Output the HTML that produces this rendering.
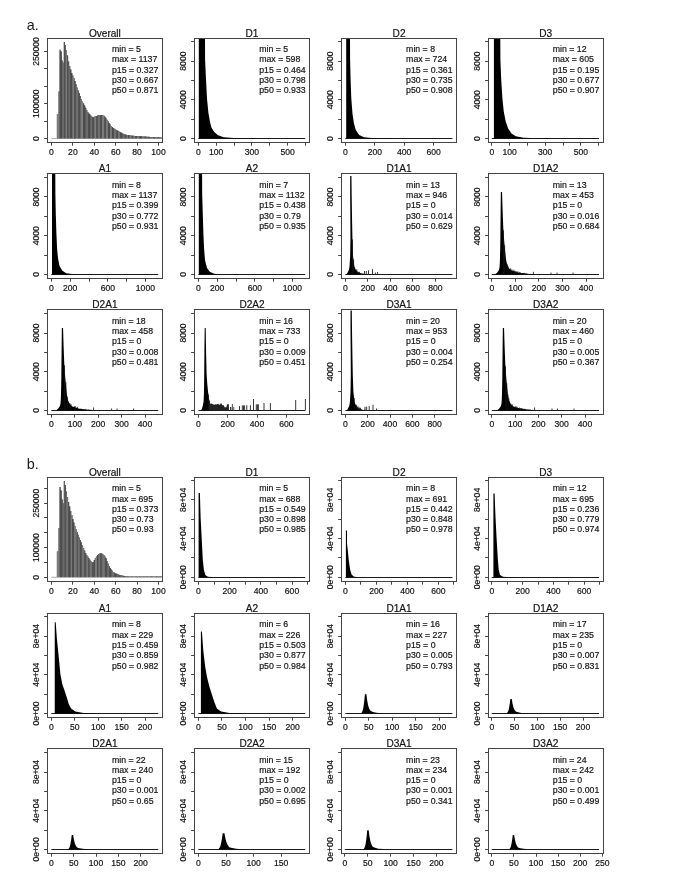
<!DOCTYPE html>
<html><head><meta charset="utf-8"><title>Histograms</title>
<style>html,body{margin:0;padding:0;background:#fff;}body{width:685px;height:886px;overflow:hidden;}svg{display:block;filter:grayscale(1);font-family:"Liberation Sans",sans-serif;}text{stroke:#111;stroke-width:0.18px;paint-order:stroke;}</style>
</head><body>
<svg width="685" height="886" viewBox="0 0 685 886">
<rect width="685" height="886" fill="#fff"/>
<g>
<text x="26.7" y="30.3" font-size="14.4" fill="#1a1a1a" style="stroke-width:0">a.</text>
<text x="26.7" y="469.2" font-size="14.4" fill="#1a1a1a" style="stroke-width:0">b.</text>
<line x1="51.5" y1="138.5" x2="56.85" y2="138.5" stroke="#999" stroke-width="0.8"/>
<clipPath id="cl0"><polygon points="56.8,138.5 56.8,113.9 57.38,113.9 57.38,113.9 58.45,113.9 58.45,91.4 59.52,91.4 59.52,49.7 60.59,49.7 60.59,51.5 61.66,51.5 61.66,60.5 62.73,60.5 62.73,62.8 63.8,62.8 63.8,42.1 64.88,42.1 64.88,45.2 65.94,45.2 65.94,50 67.02,50 67.02,55.5 68.09,55.5 68.09,61.5 69.16,61.5 69.16,66 70.22,66 70.22,69.5 71.3,69.5 71.3,73 72.37,73 72.37,75.5 73.44,75.5 73.44,78 74.5,78 74.5,81 75.58,81 75.58,84.3 76.65,84.3 76.65,87.5 77.72,87.5 77.72,90.5 78.78,90.5 78.78,93.3 79.86,93.3 79.86,96 80.92,96 80.92,99 82,99 82,101.5 83.06,101.5 83.06,103.5 84.14,103.5 84.14,105.5 85.21,105.5 85.21,107.8 86.28,107.8 86.28,110 87.34,110 87.34,112 88.41,112 88.41,113.5 89.48,113.5 89.48,114.5 90.56,114.5 90.56,115.8 91.62,115.8 91.62,116.8 92.69,116.8 92.69,117.2 93.77,117.2 93.77,116.8 94.84,116.8 94.84,116.3 95.91,116.3 95.91,115.9 96.97,115.9 96.97,115.6 98.05,115.6 98.05,115.3 99.12,115.3 99.12,115.1 100.19,115.1 100.19,115 101.25,115 101.25,115.1 102.33,115.1 102.33,115.3 103.4,115.3 103.4,115.7 104.47,115.7 104.47,116.7 105.53,116.7 105.53,118.2 106.61,118.2 106.61,119.8 107.68,119.8 107.68,121.5 108.75,121.5 108.75,123.2 109.81,123.2 109.81,124.6 110.89,124.6 110.89,125.9 111.96,125.9 111.96,127 113.03,127 113.03,128 114.09,128 114.09,128.8 115.17,128.8 115.17,129.5 116.23,129.5 116.23,130.2 117.31,130.2 117.31,130.8 118.38,130.8 118.38,131.3 119.45,131.3 119.45,131.9 120.52,131.9 120.52,132.6 121.59,132.6 121.59,133.2 122.66,133.2 122.66,133.7 123.73,133.7 123.73,134.1 124.8,134.1 124.8,134.4 125.87,134.4 125.87,134.7 126.94,134.7 126.94,134.9 128,134.9 128,135.1 129.07,135.1 129.07,135.25 130.15,135.25 130.15,135.4 131.22,135.4 131.22,135.55 132.29,135.55 132.29,135.7 133.36,135.7 133.36,135.8 134.43,135.8 134.43,135.9 135.5,135.9 135.5,135.95 136.56,135.95 136.56,136 137.63,136 137.63,136.07 138.7,136.07 138.7,136.15 139.78,136.15 139.78,136.23 140.84,136.23 140.84,136.3 141.92,136.3 141.92,136.38 142.99,136.38 142.99,136.45 144.06,136.45 144.06,136.53 145.12,136.53 145.12,136.6 146.19,136.6 146.19,136.68 147.26,136.68 147.26,136.75 148.34,136.75 148.34,136.82 149.41,136.82 149.41,136.9 150.48,136.9 150.48,136.95 151.55,136.95 151.55,137 152.62,137 152.62,137.05 153.69,137.05 153.69,137.1 154.75,137.1 154.75,137.15 155.82,137.15 155.82,137.2 156.9,137.2 156.9,137.25 157.97,137.25 157.97,137.3 159.04,137.3 159.04,137.35 160.11,137.35 160.11,137.4 161.18,137.4 161.18,137.45 161.8,137.45 161.8,138.5"/></clipPath>
<g clip-path="url(#cl0)">
<rect x="50" y="38.1" width="115" height="110" fill="#595959"/>
<rect x="56.8" y="38.1" width="2.2" height="110" fill="#7c7c7c"/>
<rect x="59" y="38.1" width="1.3" height="110" fill="#666"/>
<rect x="60.3" y="38.1" width="1.95" height="110" fill="#4a4a4a"/>
<rect x="62.15" y="38.1" width="2.05" height="110" fill="#6b6b6b"/>
<rect x="64.1" y="38.1" width="1.6" height="110" fill="#505050"/>
<rect x="65.6" y="38.1" width="1.63" height="110" fill="#7c7c7c"/>
<rect x="67.14" y="38.1" width="1.58" height="110" fill="#505050"/>
<rect x="68.62" y="38.1" width="1.8" height="110" fill="#6c6c6c"/>
<rect x="70.32" y="38.1" width="2.11" height="110" fill="#494949"/>
<rect x="72.32" y="38.1" width="1.84" height="110" fill="#7b7b7b"/>
<rect x="74.06" y="38.1" width="2.09" height="110" fill="#555555"/>
<rect x="76.06" y="38.1" width="2.29" height="110" fill="#717171"/>
<rect x="78.25" y="38.1" width="2.38" height="110" fill="#515151"/>
<rect x="80.53" y="38.1" width="2.83" height="110" fill="#7c7c7c"/>
<rect x="83.26" y="38.1" width="2.32" height="110" fill="#484848"/>
<rect x="85.48" y="38.1" width="2.87" height="110" fill="#6b6b6b"/>
<rect x="88.24" y="38.1" width="2.28" height="110" fill="#4a4a4a"/>
<rect x="90.42" y="38.1" width="1.91" height="110" fill="#6e6e6e"/>
<rect x="92.23" y="38.1" width="2.26" height="110" fill="#515151"/>
<rect x="94.39" y="38.1" width="1.93" height="110" fill="#7f7f7f"/>
<rect x="96.22" y="38.1" width="1.75" height="110" fill="#515151"/>
<rect x="97.87" y="38.1" width="2.3" height="110" fill="#707070"/>
<rect x="100.07" y="38.1" width="2.02" height="110" fill="#505050"/>
<rect x="101.99" y="38.1" width="2.5" height="110" fill="#7c7c7c"/>
<rect x="104.39" y="38.1" width="1.58" height="110" fill="#4b4b4b"/>
<rect x="105.87" y="38.1" width="2.19" height="110" fill="#7b7b7b"/>
<rect x="107.97" y="38.1" width="2.1" height="110" fill="#4d4d4d"/>
<rect x="109.97" y="38.1" width="2.15" height="110" fill="#787878"/>
<rect x="112.02" y="38.1" width="2.01" height="110" fill="#4b4b4b"/>
<rect x="113.92" y="38.1" width="2.61" height="110" fill="#717171"/>
<rect x="116.44" y="38.1" width="1.61" height="110" fill="#4c4c4c"/>
<rect x="117.95" y="38.1" width="2.24" height="110" fill="#747474"/>
<rect x="120.09" y="38.1" width="2.52" height="110" fill="#4c4c4c"/>
<rect x="122.51" y="38.1" width="2.35" height="110" fill="#6c6c6c"/>
<rect x="124.76" y="38.1" width="1.67" height="110" fill="#4e4e4e"/>
<rect x="126.32" y="38.1" width="1.73" height="110" fill="#747474"/>
<rect x="127.96" y="38.1" width="1.71" height="110" fill="#4f4f4f"/>
<rect x="129.57" y="38.1" width="2.09" height="110" fill="#7f7f7f"/>
<rect x="131.56" y="38.1" width="1.61" height="110" fill="#505050"/>
<rect x="133.07" y="38.1" width="2.3" height="110" fill="#747474"/>
<rect x="135.27" y="38.1" width="1.98" height="110" fill="#4d4d4d"/>
<rect x="137.15" y="38.1" width="2.33" height="110" fill="#7c7c7c"/>
<rect x="139.38" y="38.1" width="2.62" height="110" fill="#494949"/>
<rect x="141.89" y="38.1" width="2.68" height="110" fill="#727272"/>
<rect x="144.47" y="38.1" width="2.16" height="110" fill="#525252"/>
<rect x="146.53" y="38.1" width="1.59" height="110" fill="#737373"/>
<rect x="148.02" y="38.1" width="2.41" height="110" fill="#525252"/>
<rect x="150.33" y="38.1" width="2.65" height="110" fill="#737373"/>
<rect x="152.88" y="38.1" width="2.5" height="110" fill="#525252"/>
<rect x="155.28" y="38.1" width="1.99" height="110" fill="#787878"/>
<rect x="157.17" y="38.1" width="2" height="110" fill="#515151"/>
<rect x="159.07" y="38.1" width="1.66" height="110" fill="#6b6b6b"/>
<rect x="160.63" y="38.1" width="1.81" height="110" fill="#4c4c4c"/>
</g>
<rect x="47.5" y="38.5" width="115" height="104" fill="none" stroke="#444" stroke-width="1"/>
<text x="104.88" y="36.9" font-size="10.1" text-anchor="middle" fill="#111">Overall</text>
<text x="111.95" y="52" font-size="8.75" fill="#111">min = 5</text>
<text x="111.95" y="62.28" font-size="8.75" fill="#111">max = 1137</text>
<text x="111.95" y="72.56" font-size="8.75" fill="#111">p15 = 0.327</text>
<text x="111.95" y="82.84" font-size="8.75" fill="#111">p30 = 0.667</text>
<text x="111.95" y="93.12" font-size="8.75" fill="#111">p50 = 0.871</text>
<line x1="51.5" y1="142.5" x2="51.5" y2="145.7" stroke="#444" stroke-width="1"/>
<text x="51.5" y="155" font-size="8.6" text-anchor="middle" fill="#111">0</text>
<line x1="72.5" y1="142.5" x2="72.5" y2="145.7" stroke="#444" stroke-width="1"/>
<text x="72.9" y="155" font-size="8.6" text-anchor="middle" fill="#111">20</text>
<line x1="94.5" y1="142.5" x2="94.5" y2="145.7" stroke="#444" stroke-width="1"/>
<text x="94.3" y="155" font-size="8.6" text-anchor="middle" fill="#111">40</text>
<line x1="115.5" y1="142.5" x2="115.5" y2="145.7" stroke="#444" stroke-width="1"/>
<text x="115.7" y="155" font-size="8.6" text-anchor="middle" fill="#111">60</text>
<line x1="137.5" y1="142.5" x2="137.5" y2="145.7" stroke="#444" stroke-width="1"/>
<text x="137.1" y="155" font-size="8.6" text-anchor="middle" fill="#111">80</text>
<line x1="158.5" y1="142.5" x2="158.5" y2="145.7" stroke="#444" stroke-width="1"/>
<text x="158.5" y="155" font-size="8.6" text-anchor="middle" fill="#111">100</text>
<line x1="44.1" y1="138.5" x2="47.5" y2="138.5" stroke="#444" stroke-width="1"/>
<text transform="translate(38.95,138.5) rotate(-90)" font-size="8.6" text-anchor="middle" fill="#111">0</text>
<line x1="44.1" y1="121.5" x2="47.5" y2="121.5" stroke="#444" stroke-width="1"/>
<line x1="44.1" y1="103.5" x2="47.5" y2="103.5" stroke="#444" stroke-width="1"/>
<text transform="translate(38.95,103.7) rotate(-90)" font-size="8.6" text-anchor="middle" fill="#111">100000</text>
<line x1="44.1" y1="86.5" x2="47.5" y2="86.5" stroke="#444" stroke-width="1"/>
<line x1="44.1" y1="68.5" x2="47.5" y2="68.5" stroke="#444" stroke-width="1"/>
<line x1="44.1" y1="51.5" x2="47.5" y2="51.5" stroke="#444" stroke-width="1"/>
<text transform="translate(38.95,51.5) rotate(-90)" font-size="8.6" text-anchor="middle" fill="#111">250000</text>
<line x1="198.4" y1="138.5" x2="305.2" y2="138.5" stroke="#1a1a1a" stroke-width="1"/>
<polygon fill="#000" points="198.8,138.5 198.8,38 205,38 205.1,60 206,79.2 207,98.4 208.4,112.8 209.9,121.4 211.3,127.2 214.2,132 218,135.3 223.8,137.3 233.4,138 245,138.2 255,138.1 255,138.5"/>
<rect x="194.5" y="38.5" width="115" height="104" fill="none" stroke="#444" stroke-width="1"/>
<text x="252" y="36.9" font-size="10.1" text-anchor="middle" fill="#111">D1</text>
<text x="259.2" y="52" font-size="8.75" fill="#111">min = 5</text>
<text x="259.2" y="62.28" font-size="8.75" fill="#111">max = 598</text>
<text x="259.2" y="72.56" font-size="8.75" fill="#111">p15 = 0.464</text>
<text x="259.2" y="82.84" font-size="8.75" fill="#111">p30 = 0.798</text>
<text x="259.2" y="93.12" font-size="8.75" fill="#111">p50 = 0.933</text>
<line x1="198.5" y1="142.5" x2="198.5" y2="145.7" stroke="#444" stroke-width="1"/>
<text x="198.4" y="155" font-size="8.6" text-anchor="middle" fill="#111">0</text>
<line x1="216.5" y1="142.5" x2="216.5" y2="145.7" stroke="#444" stroke-width="1"/>
<text x="216.24" y="155" font-size="8.6" text-anchor="middle" fill="#111">100</text>
<line x1="234.5" y1="142.5" x2="234.5" y2="145.7" stroke="#444" stroke-width="1"/>
<line x1="251.5" y1="142.5" x2="251.5" y2="145.7" stroke="#444" stroke-width="1"/>
<text x="251.92" y="155" font-size="8.6" text-anchor="middle" fill="#111">300</text>
<line x1="269.5" y1="142.5" x2="269.5" y2="145.7" stroke="#444" stroke-width="1"/>
<line x1="287.5" y1="142.5" x2="287.5" y2="145.7" stroke="#444" stroke-width="1"/>
<text x="287.6" y="155" font-size="8.6" text-anchor="middle" fill="#111">500</text>
<line x1="305.5" y1="142.5" x2="305.5" y2="145.7" stroke="#444" stroke-width="1"/>
<line x1="191.1" y1="138.5" x2="194.5" y2="138.5" stroke="#444" stroke-width="1"/>
<text transform="translate(186.2,138.5) rotate(-90)" font-size="8.6" text-anchor="middle" fill="#111">0</text>
<line x1="191.1" y1="119.5" x2="194.5" y2="119.5" stroke="#444" stroke-width="1"/>
<line x1="191.1" y1="99.5" x2="194.5" y2="99.5" stroke="#444" stroke-width="1"/>
<text transform="translate(186.2,99.8) rotate(-90)" font-size="8.6" text-anchor="middle" fill="#111">4000</text>
<line x1="191.1" y1="80.5" x2="194.5" y2="80.5" stroke="#444" stroke-width="1"/>
<line x1="191.1" y1="61.5" x2="194.5" y2="61.5" stroke="#444" stroke-width="1"/>
<text transform="translate(186.2,61.1) rotate(-90)" font-size="8.6" text-anchor="middle" fill="#111">8000</text>
<line x1="191.1" y1="41.5" x2="194.5" y2="41.5" stroke="#444" stroke-width="1"/>
<line x1="345.4" y1="138.5" x2="452.4" y2="138.5" stroke="#1a1a1a" stroke-width="1"/>
<polygon fill="#000" points="346.2,138.5 346.2,38 350,38 350.1,60 350.6,79.2 351.3,98.4 352.5,113.7 353.9,123.3 355.8,130 359.2,134.9 364,137.3 371.7,137.9 382,138.2 392,138.1 392,138.5"/>
<rect x="341.5" y="38.5" width="115" height="104" fill="none" stroke="#444" stroke-width="1"/>
<text x="399.05" y="36.9" font-size="10.1" text-anchor="middle" fill="#111">D2</text>
<text x="406.1" y="52" font-size="8.75" fill="#111">min = 8</text>
<text x="406.1" y="62.28" font-size="8.75" fill="#111">max = 724</text>
<text x="406.1" y="72.56" font-size="8.75" fill="#111">p15 = 0.361</text>
<text x="406.1" y="82.84" font-size="8.75" fill="#111">p30 = 0.735</text>
<text x="406.1" y="93.12" font-size="8.75" fill="#111">p50 = 0.908</text>
<line x1="345.5" y1="142.5" x2="345.5" y2="145.7" stroke="#444" stroke-width="1"/>
<text x="345.4" y="155" font-size="8.6" text-anchor="middle" fill="#111">0</text>
<line x1="374.5" y1="142.5" x2="374.5" y2="145.7" stroke="#444" stroke-width="1"/>
<text x="374.8" y="155" font-size="8.6" text-anchor="middle" fill="#111">200</text>
<line x1="404.5" y1="142.5" x2="404.5" y2="145.7" stroke="#444" stroke-width="1"/>
<text x="404.2" y="155" font-size="8.6" text-anchor="middle" fill="#111">400</text>
<line x1="433.5" y1="142.5" x2="433.5" y2="145.7" stroke="#444" stroke-width="1"/>
<text x="433.6" y="155" font-size="8.6" text-anchor="middle" fill="#111">600</text>
<line x1="338.1" y1="138.5" x2="341.5" y2="138.5" stroke="#444" stroke-width="1"/>
<text transform="translate(333.1,138.5) rotate(-90)" font-size="8.6" text-anchor="middle" fill="#111">0</text>
<line x1="338.1" y1="119.5" x2="341.5" y2="119.5" stroke="#444" stroke-width="1"/>
<line x1="338.1" y1="99.5" x2="341.5" y2="99.5" stroke="#444" stroke-width="1"/>
<text transform="translate(333.1,99.8) rotate(-90)" font-size="8.6" text-anchor="middle" fill="#111">4000</text>
<line x1="338.1" y1="80.5" x2="341.5" y2="80.5" stroke="#444" stroke-width="1"/>
<line x1="338.1" y1="61.5" x2="341.5" y2="61.5" stroke="#444" stroke-width="1"/>
<text transform="translate(333.1,61.1) rotate(-90)" font-size="8.6" text-anchor="middle" fill="#111">8000</text>
<line x1="338.1" y1="41.5" x2="341.5" y2="41.5" stroke="#444" stroke-width="1"/>
<line x1="491.8" y1="138.5" x2="599" y2="138.5" stroke="#1a1a1a" stroke-width="1"/>
<polygon fill="#000" points="493.9,138.5 493.9,38 500.3,38 500.4,60 501.2,79.2 502.4,98.4 503.8,111.8 505.7,121.4 508.1,128.6 511.5,133.4 515.8,136.3 523.5,137.7 537,138.2 550,138.1 550,138.5"/>
<rect x="488.5" y="38.5" width="115" height="104" fill="none" stroke="#444" stroke-width="1"/>
<text x="545.7" y="36.9" font-size="10.1" text-anchor="middle" fill="#111">D3</text>
<text x="552.8" y="52" font-size="8.75" fill="#111">min = 12</text>
<text x="552.8" y="62.28" font-size="8.75" fill="#111">max = 605</text>
<text x="552.8" y="72.56" font-size="8.75" fill="#111">p15 = 0.195</text>
<text x="552.8" y="82.84" font-size="8.75" fill="#111">p30 = 0.677</text>
<text x="552.8" y="93.12" font-size="8.75" fill="#111">p50 = 0.907</text>
<line x1="491.5" y1="142.5" x2="491.5" y2="145.7" stroke="#444" stroke-width="1"/>
<text x="491.8" y="155" font-size="8.6" text-anchor="middle" fill="#111">0</text>
<line x1="509.5" y1="142.5" x2="509.5" y2="145.7" stroke="#444" stroke-width="1"/>
<text x="509.6" y="155" font-size="8.6" text-anchor="middle" fill="#111">100</text>
<line x1="527.5" y1="142.5" x2="527.5" y2="145.7" stroke="#444" stroke-width="1"/>
<line x1="545.5" y1="142.5" x2="545.5" y2="145.7" stroke="#444" stroke-width="1"/>
<text x="545.2" y="155" font-size="8.6" text-anchor="middle" fill="#111">300</text>
<line x1="563.5" y1="142.5" x2="563.5" y2="145.7" stroke="#444" stroke-width="1"/>
<line x1="580.5" y1="142.5" x2="580.5" y2="145.7" stroke="#444" stroke-width="1"/>
<text x="580.8" y="155" font-size="8.6" text-anchor="middle" fill="#111">500</text>
<line x1="598.5" y1="142.5" x2="598.5" y2="145.7" stroke="#444" stroke-width="1"/>
<line x1="485.1" y1="138.5" x2="488.5" y2="138.5" stroke="#444" stroke-width="1"/>
<text transform="translate(479.8,138.5) rotate(-90)" font-size="8.6" text-anchor="middle" fill="#111">0</text>
<line x1="485.1" y1="119.5" x2="488.5" y2="119.5" stroke="#444" stroke-width="1"/>
<line x1="485.1" y1="99.5" x2="488.5" y2="99.5" stroke="#444" stroke-width="1"/>
<text transform="translate(479.8,99.8) rotate(-90)" font-size="8.6" text-anchor="middle" fill="#111">4000</text>
<line x1="485.1" y1="80.5" x2="488.5" y2="80.5" stroke="#444" stroke-width="1"/>
<line x1="485.1" y1="61.5" x2="488.5" y2="61.5" stroke="#444" stroke-width="1"/>
<text transform="translate(479.8,61.1) rotate(-90)" font-size="8.6" text-anchor="middle" fill="#111">8000</text>
<line x1="485.1" y1="41.5" x2="488.5" y2="41.5" stroke="#444" stroke-width="1"/>
<line x1="51.4" y1="274.5" x2="158.2" y2="274.5" stroke="#1a1a1a" stroke-width="1"/>
<polygon fill="#000" points="52,274.4 52,174 55.3,174 55.4,195 55.8,214.2 56.4,233.4 57.1,248.7 58,258.3 59.5,266 62.4,270.8 66.2,273.2 73.9,274.2 84,274.4 92,274 92,274.4"/>
<rect x="47.5" y="173.5" width="115" height="105" fill="none" stroke="#444" stroke-width="1"/>
<text x="104.88" y="171.9" font-size="10.1" text-anchor="middle" fill="#111">A1</text>
<text x="111.95" y="187.7" font-size="8.75" fill="#111">min = 8</text>
<text x="111.95" y="197.98" font-size="8.75" fill="#111">max = 1137</text>
<text x="111.95" y="208.26" font-size="8.75" fill="#111">p15 = 0.399</text>
<text x="111.95" y="218.54" font-size="8.75" fill="#111">p30 = 0.772</text>
<text x="111.95" y="228.82" font-size="8.75" fill="#111">p50 = 0.931</text>
<line x1="51.5" y1="278.5" x2="51.5" y2="281.7" stroke="#444" stroke-width="1"/>
<text x="51.4" y="291" font-size="8.6" text-anchor="middle" fill="#111">0</text>
<line x1="70.5" y1="278.5" x2="70.5" y2="281.7" stroke="#444" stroke-width="1"/>
<text x="70.2" y="291" font-size="8.6" text-anchor="middle" fill="#111">200</text>
<line x1="89.5" y1="278.5" x2="89.5" y2="281.7" stroke="#444" stroke-width="1"/>
<line x1="107.5" y1="278.5" x2="107.5" y2="281.7" stroke="#444" stroke-width="1"/>
<text x="107.8" y="291" font-size="8.6" text-anchor="middle" fill="#111">600</text>
<line x1="126.5" y1="278.5" x2="126.5" y2="281.7" stroke="#444" stroke-width="1"/>
<line x1="145.5" y1="278.5" x2="145.5" y2="281.7" stroke="#444" stroke-width="1"/>
<text x="145.4" y="291" font-size="8.6" text-anchor="middle" fill="#111">1000</text>
<line x1="44.1" y1="274.5" x2="47.5" y2="274.5" stroke="#444" stroke-width="1"/>
<text transform="translate(38.95,274.4) rotate(-90)" font-size="8.6" text-anchor="middle" fill="#111">0</text>
<line x1="44.1" y1="255.5" x2="47.5" y2="255.5" stroke="#444" stroke-width="1"/>
<line x1="44.1" y1="235.5" x2="47.5" y2="235.5" stroke="#444" stroke-width="1"/>
<text transform="translate(38.95,235.7) rotate(-90)" font-size="8.6" text-anchor="middle" fill="#111">4000</text>
<line x1="44.1" y1="216.5" x2="47.5" y2="216.5" stroke="#444" stroke-width="1"/>
<line x1="44.1" y1="196.5" x2="47.5" y2="196.5" stroke="#444" stroke-width="1"/>
<text transform="translate(38.95,197) rotate(-90)" font-size="8.6" text-anchor="middle" fill="#111">8000</text>
<line x1="44.1" y1="177.5" x2="47.5" y2="177.5" stroke="#444" stroke-width="1"/>
<line x1="198.4" y1="274.5" x2="305.2" y2="274.5" stroke="#1a1a1a" stroke-width="1"/>
<polygon fill="#000" points="198.8,274.4 198.8,174 202.1,174 202.2,195 202.8,214.2 203.4,233.4 204.1,248.7 205,260.3 207,268 209.8,271.8 214.2,273.7 221.8,274.4 230,274.5 238,274 238,274.4"/>
<rect x="194.5" y="173.5" width="115" height="105" fill="none" stroke="#444" stroke-width="1"/>
<text x="252" y="171.9" font-size="10.1" text-anchor="middle" fill="#111">A2</text>
<text x="259.2" y="187.7" font-size="8.75" fill="#111">min = 7</text>
<text x="259.2" y="197.98" font-size="8.75" fill="#111">max = 1132</text>
<text x="259.2" y="208.26" font-size="8.75" fill="#111">p15 = 0.438</text>
<text x="259.2" y="218.54" font-size="8.75" fill="#111">p30 = 0.79</text>
<text x="259.2" y="228.82" font-size="8.75" fill="#111">p50 = 0.935</text>
<line x1="198.5" y1="278.5" x2="198.5" y2="281.7" stroke="#444" stroke-width="1"/>
<text x="198.4" y="291" font-size="8.6" text-anchor="middle" fill="#111">0</text>
<line x1="217.5" y1="278.5" x2="217.5" y2="281.7" stroke="#444" stroke-width="1"/>
<text x="217.2" y="291" font-size="8.6" text-anchor="middle" fill="#111">200</text>
<line x1="236.5" y1="278.5" x2="236.5" y2="281.7" stroke="#444" stroke-width="1"/>
<line x1="254.5" y1="278.5" x2="254.5" y2="281.7" stroke="#444" stroke-width="1"/>
<text x="254.8" y="291" font-size="8.6" text-anchor="middle" fill="#111">600</text>
<line x1="273.5" y1="278.5" x2="273.5" y2="281.7" stroke="#444" stroke-width="1"/>
<line x1="292.5" y1="278.5" x2="292.5" y2="281.7" stroke="#444" stroke-width="1"/>
<text x="292.4" y="291" font-size="8.6" text-anchor="middle" fill="#111">1000</text>
<line x1="191.1" y1="274.5" x2="194.5" y2="274.5" stroke="#444" stroke-width="1"/>
<text transform="translate(186.2,274.4) rotate(-90)" font-size="8.6" text-anchor="middle" fill="#111">0</text>
<line x1="191.1" y1="255.5" x2="194.5" y2="255.5" stroke="#444" stroke-width="1"/>
<line x1="191.1" y1="235.5" x2="194.5" y2="235.5" stroke="#444" stroke-width="1"/>
<text transform="translate(186.2,235.7) rotate(-90)" font-size="8.6" text-anchor="middle" fill="#111">4000</text>
<line x1="191.1" y1="216.5" x2="194.5" y2="216.5" stroke="#444" stroke-width="1"/>
<line x1="191.1" y1="196.5" x2="194.5" y2="196.5" stroke="#444" stroke-width="1"/>
<text transform="translate(186.2,197) rotate(-90)" font-size="8.6" text-anchor="middle" fill="#111">8000</text>
<line x1="191.1" y1="177.5" x2="194.5" y2="177.5" stroke="#444" stroke-width="1"/>
<line x1="345.4" y1="274.5" x2="452.4" y2="274.5" stroke="#1a1a1a" stroke-width="1"/>
<polygon fill="#000" points="345.8,274.4 345.8,274.4 346.8,273.9 347.75,272.2 348.95,269.7 349.55,266 350.15,256 350.45,238.7 350.35,218.8 350.15,194 350.15,176 351.45,176 351.65,194 352.05,218.8 352.45,238.7 353.05,256 354.25,266 355.75,269.7 358.25,272.2 362.8,273.9 365.8,274.4 365.8,274.4"/>
<line x1="352.5" y1="239.57" x2="352.5" y2="274.4" stroke="#111" stroke-width="0.8"/>
<line x1="353.62" y1="259.4" x2="353.62" y2="274.4" stroke="#111" stroke-width="0.8"/>
<line x1="356.8" y1="269.18" x2="356.8" y2="274.4" stroke="#111" stroke-width="0.8"/>
<line x1="358.08" y1="271.77" x2="358.08" y2="274.4" stroke="#111" stroke-width="0.8"/>
<line x1="359.5" y1="271.86" x2="359.5" y2="274.4" stroke="#111" stroke-width="0.8"/>
<line x1="362.06" y1="273.26" x2="362.06" y2="274.4" stroke="#111" stroke-width="0.8"/>
<line x1="363.48" y1="273.52" x2="363.48" y2="274.4" stroke="#111" stroke-width="0.8"/>
<line x1="366.04" y1="273.81" x2="366.04" y2="274.4" stroke="#111" stroke-width="0.8"/>
<line x1="367.51" y1="273.87" x2="367.51" y2="274.4" stroke="#111" stroke-width="0.8"/>
<line x1="369.65" y1="274.02" x2="369.65" y2="274.4" stroke="#111" stroke-width="0.8"/>
<line x1="370.85" y1="274.17" x2="370.85" y2="274.4" stroke="#111" stroke-width="0.8"/>
<line x1="364.5" y1="271" x2="364.5" y2="274.4" stroke="#222" stroke-width="0.9"/>
<line x1="366.3" y1="271" x2="366.3" y2="274.4" stroke="#222" stroke-width="0.9"/>
<line x1="368.5" y1="270.3" x2="368.5" y2="274.4" stroke="#222" stroke-width="0.9"/>
<line x1="372.5" y1="269.2" x2="372.5" y2="274.4" stroke="#222" stroke-width="0.9"/>
<line x1="375.4" y1="272.5" x2="375.4" y2="274.4" stroke="#222" stroke-width="0.9"/>
<line x1="377.6" y1="272" x2="377.6" y2="274.4" stroke="#222" stroke-width="0.9"/>
<rect x="341.5" y="173.5" width="115" height="105" fill="none" stroke="#444" stroke-width="1"/>
<text x="399.05" y="171.9" font-size="10.1" text-anchor="middle" fill="#111">D1A1</text>
<text x="406.1" y="187.7" font-size="8.75" fill="#111">min = 13</text>
<text x="406.1" y="197.98" font-size="8.75" fill="#111">max = 946</text>
<text x="406.1" y="208.26" font-size="8.75" fill="#111">p15 = 0</text>
<text x="406.1" y="218.54" font-size="8.75" fill="#111">p30 = 0.014</text>
<text x="406.1" y="228.82" font-size="8.75" fill="#111">p50 = 0.629</text>
<line x1="345.5" y1="278.5" x2="345.5" y2="281.7" stroke="#444" stroke-width="1"/>
<text x="345.4" y="291" font-size="8.6" text-anchor="middle" fill="#111">0</text>
<line x1="367.5" y1="278.5" x2="367.5" y2="281.7" stroke="#444" stroke-width="1"/>
<text x="367.9" y="291" font-size="8.6" text-anchor="middle" fill="#111">200</text>
<line x1="390.5" y1="278.5" x2="390.5" y2="281.7" stroke="#444" stroke-width="1"/>
<text x="390.4" y="291" font-size="8.6" text-anchor="middle" fill="#111">400</text>
<line x1="412.5" y1="278.5" x2="412.5" y2="281.7" stroke="#444" stroke-width="1"/>
<text x="412.9" y="291" font-size="8.6" text-anchor="middle" fill="#111">600</text>
<line x1="435.5" y1="278.5" x2="435.5" y2="281.7" stroke="#444" stroke-width="1"/>
<text x="435.4" y="291" font-size="8.6" text-anchor="middle" fill="#111">800</text>
<line x1="338.1" y1="274.5" x2="341.5" y2="274.5" stroke="#444" stroke-width="1"/>
<text transform="translate(333.1,274.4) rotate(-90)" font-size="8.6" text-anchor="middle" fill="#111">0</text>
<line x1="338.1" y1="255.5" x2="341.5" y2="255.5" stroke="#444" stroke-width="1"/>
<line x1="338.1" y1="235.5" x2="341.5" y2="235.5" stroke="#444" stroke-width="1"/>
<text transform="translate(333.1,235.7) rotate(-90)" font-size="8.6" text-anchor="middle" fill="#111">4000</text>
<line x1="338.1" y1="216.5" x2="341.5" y2="216.5" stroke="#444" stroke-width="1"/>
<line x1="338.1" y1="196.5" x2="341.5" y2="196.5" stroke="#444" stroke-width="1"/>
<text transform="translate(333.1,197) rotate(-90)" font-size="8.6" text-anchor="middle" fill="#111">8000</text>
<line x1="338.1" y1="177.5" x2="341.5" y2="177.5" stroke="#444" stroke-width="1"/>
<line x1="491.8" y1="274.5" x2="599" y2="274.5" stroke="#1a1a1a" stroke-width="1"/>
<polygon fill="#000" points="494.95,274.4 494.95,274.4 495.45,274.1 497.05,272.8 498.65,270.6 499.45,267.9 499.75,263.9 499.95,258.9 500.15,250.4 500.35,238.9 500.45,227.4 500.65,208.4 500.85,191.9 502.05,191.9 502.55,208.4 503.25,227.4 504.05,238.9 505.05,250.4 505.95,258.9 506.95,263.9 508.65,267.9 511.35,270.6 518.45,272.8 529.45,274.1 535.45,274.4 535.45,274.4"/>
<line x1="503.5" y1="230.38" x2="503.5" y2="274.4" stroke="#111" stroke-width="0.8"/>
<line x1="504.64" y1="245.27" x2="504.64" y2="274.4" stroke="#111" stroke-width="0.8"/>
<line x1="507.14" y1="263.84" x2="507.14" y2="274.4" stroke="#111" stroke-width="0.8"/>
<line x1="508.2" y1="266.48" x2="508.2" y2="274.4" stroke="#111" stroke-width="0.8"/>
<line x1="510.62" y1="268.3" x2="510.62" y2="274.4" stroke="#111" stroke-width="0.8"/>
<line x1="511.7" y1="269.55" x2="511.7" y2="274.4" stroke="#111" stroke-width="0.8"/>
<line x1="513.12" y1="269.63" x2="513.12" y2="274.4" stroke="#111" stroke-width="0.8"/>
<line x1="514.38" y1="270.46" x2="514.38" y2="274.4" stroke="#111" stroke-width="0.8"/>
<line x1="515.39" y1="271.13" x2="515.39" y2="274.4" stroke="#111" stroke-width="0.8"/>
<line x1="516.85" y1="271.11" x2="516.85" y2="274.4" stroke="#111" stroke-width="0.8"/>
<line x1="517.93" y1="271.47" x2="517.93" y2="274.4" stroke="#111" stroke-width="0.8"/>
<line x1="519.36" y1="271.93" x2="519.36" y2="274.4" stroke="#111" stroke-width="0.8"/>
<line x1="520.5" y1="272.41" x2="520.5" y2="274.4" stroke="#111" stroke-width="0.8"/>
<line x1="522.43" y1="273.23" x2="522.43" y2="274.4" stroke="#111" stroke-width="0.8"/>
<line x1="523.49" y1="272.98" x2="523.49" y2="274.4" stroke="#111" stroke-width="0.8"/>
<line x1="524.6" y1="272.85" x2="524.6" y2="274.4" stroke="#111" stroke-width="0.8"/>
<line x1="525.75" y1="273.53" x2="525.75" y2="274.4" stroke="#111" stroke-width="0.8"/>
<line x1="526.81" y1="273.56" x2="526.81" y2="274.4" stroke="#111" stroke-width="0.8"/>
<line x1="528.87" y1="273.99" x2="528.87" y2="274.4" stroke="#111" stroke-width="0.8"/>
<line x1="530.23" y1="273.74" x2="530.23" y2="274.4" stroke="#111" stroke-width="0.8"/>
<line x1="531.32" y1="274.08" x2="531.32" y2="274.4" stroke="#111" stroke-width="0.8"/>
<line x1="533.4" y1="271.8" x2="533.4" y2="274.4" stroke="#222" stroke-width="0.9"/>
<line x1="551" y1="272.6" x2="551" y2="274.4" stroke="#222" stroke-width="0.9"/>
<line x1="557" y1="272.6" x2="557" y2="274.4" stroke="#222" stroke-width="0.9"/>
<line x1="573" y1="272.6" x2="573" y2="274.4" stroke="#222" stroke-width="0.9"/>
<rect x="488.5" y="173.5" width="115" height="105" fill="none" stroke="#444" stroke-width="1"/>
<text x="545.7" y="171.9" font-size="10.1" text-anchor="middle" fill="#111">D1A2</text>
<text x="552.8" y="187.7" font-size="8.75" fill="#111">min = 13</text>
<text x="552.8" y="197.98" font-size="8.75" fill="#111">max = 453</text>
<text x="552.8" y="208.26" font-size="8.75" fill="#111">p15 = 0</text>
<text x="552.8" y="218.54" font-size="8.75" fill="#111">p30 = 0.016</text>
<text x="552.8" y="228.82" font-size="8.75" fill="#111">p50 = 0.684</text>
<line x1="491.5" y1="278.5" x2="491.5" y2="281.7" stroke="#444" stroke-width="1"/>
<text x="491.8" y="291" font-size="8.6" text-anchor="middle" fill="#111">0</text>
<line x1="515.5" y1="278.5" x2="515.5" y2="281.7" stroke="#444" stroke-width="1"/>
<text x="515.35" y="291" font-size="8.6" text-anchor="middle" fill="#111">100</text>
<line x1="538.5" y1="278.5" x2="538.5" y2="281.7" stroke="#444" stroke-width="1"/>
<text x="538.9" y="291" font-size="8.6" text-anchor="middle" fill="#111">200</text>
<line x1="562.5" y1="278.5" x2="562.5" y2="281.7" stroke="#444" stroke-width="1"/>
<text x="562.45" y="291" font-size="8.6" text-anchor="middle" fill="#111">300</text>
<line x1="586.5" y1="278.5" x2="586.5" y2="281.7" stroke="#444" stroke-width="1"/>
<text x="586" y="291" font-size="8.6" text-anchor="middle" fill="#111">400</text>
<line x1="485.1" y1="274.5" x2="488.5" y2="274.5" stroke="#444" stroke-width="1"/>
<text transform="translate(479.8,274.4) rotate(-90)" font-size="8.6" text-anchor="middle" fill="#111">0</text>
<line x1="485.1" y1="255.5" x2="488.5" y2="255.5" stroke="#444" stroke-width="1"/>
<line x1="485.1" y1="235.5" x2="488.5" y2="235.5" stroke="#444" stroke-width="1"/>
<text transform="translate(479.8,235.7) rotate(-90)" font-size="8.6" text-anchor="middle" fill="#111">4000</text>
<line x1="485.1" y1="216.5" x2="488.5" y2="216.5" stroke="#444" stroke-width="1"/>
<line x1="485.1" y1="196.5" x2="488.5" y2="196.5" stroke="#444" stroke-width="1"/>
<text transform="translate(479.8,197) rotate(-90)" font-size="8.6" text-anchor="middle" fill="#111">8000</text>
<line x1="485.1" y1="177.5" x2="488.5" y2="177.5" stroke="#444" stroke-width="1"/>
<line x1="51.4" y1="410.5" x2="158.2" y2="410.5" stroke="#1a1a1a" stroke-width="1"/>
<polygon fill="#000" points="55.95,410.4 55.95,410.4 56.45,410.1 58.05,408.8 59.65,406.6 60.45,403.9 60.75,399.9 60.95,394.9 61.15,386.4 61.35,374.9 61.45,363.4 61.65,344.4 61.85,327.9 63.05,327.9 63.55,344.4 64.25,363.4 65.05,374.9 66.05,386.4 66.95,394.9 67.95,399.9 69.65,403.9 72.35,406.6 79.45,408.8 90.45,410.1 96.45,410.4 96.45,410.4"/>
<line x1="64.5" y1="365.37" x2="64.5" y2="410.4" stroke="#111" stroke-width="0.8"/>
<line x1="65.88" y1="382.08" x2="65.88" y2="410.4" stroke="#111" stroke-width="0.8"/>
<line x1="67.33" y1="396.73" x2="67.33" y2="410.4" stroke="#111" stroke-width="0.8"/>
<line x1="69.76" y1="403.02" x2="69.76" y2="410.4" stroke="#111" stroke-width="0.8"/>
<line x1="70.99" y1="404.09" x2="70.99" y2="410.4" stroke="#111" stroke-width="0.8"/>
<line x1="74.36" y1="406.17" x2="74.36" y2="410.4" stroke="#111" stroke-width="0.8"/>
<line x1="75.26" y1="406.09" x2="75.26" y2="410.4" stroke="#111" stroke-width="0.8"/>
<line x1="77.37" y1="406.78" x2="77.37" y2="410.4" stroke="#111" stroke-width="0.8"/>
<line x1="81.07" y1="408.6" x2="81.07" y2="410.4" stroke="#111" stroke-width="0.8"/>
<line x1="82.06" y1="409.04" x2="82.06" y2="410.4" stroke="#111" stroke-width="0.8"/>
<line x1="83.32" y1="409.25" x2="83.32" y2="410.4" stroke="#111" stroke-width="0.8"/>
<line x1="85.61" y1="409.31" x2="85.61" y2="410.4" stroke="#111" stroke-width="0.8"/>
<line x1="88.76" y1="409.39" x2="88.76" y2="410.4" stroke="#111" stroke-width="0.8"/>
<line x1="90" y1="410.04" x2="90" y2="410.4" stroke="#111" stroke-width="0.8"/>
<line x1="91.01" y1="409.51" x2="91.01" y2="410.4" stroke="#111" stroke-width="0.8"/>
<line x1="93.6" y1="407.5" x2="93.6" y2="410.4" stroke="#222" stroke-width="0.9"/>
<line x1="111.6" y1="408.5" x2="111.6" y2="410.4" stroke="#222" stroke-width="0.9"/>
<line x1="117" y1="408.5" x2="117" y2="410.4" stroke="#222" stroke-width="0.9"/>
<line x1="133.6" y1="408.5" x2="133.6" y2="410.4" stroke="#222" stroke-width="0.9"/>
<rect x="47.5" y="309.5" width="115" height="105" fill="none" stroke="#444" stroke-width="1"/>
<text x="104.88" y="307.9" font-size="10.1" text-anchor="middle" fill="#111">D2A1</text>
<text x="111.95" y="323.8" font-size="8.75" fill="#111">min = 18</text>
<text x="111.95" y="334.08" font-size="8.75" fill="#111">max = 458</text>
<text x="111.95" y="344.36" font-size="8.75" fill="#111">p15 = 0</text>
<text x="111.95" y="354.64" font-size="8.75" fill="#111">p30 = 0.008</text>
<text x="111.95" y="364.92" font-size="8.75" fill="#111">p50 = 0.481</text>
<line x1="51.5" y1="414.5" x2="51.5" y2="417.7" stroke="#444" stroke-width="1"/>
<text x="51.4" y="426.9" font-size="8.6" text-anchor="middle" fill="#111">0</text>
<line x1="74.5" y1="414.5" x2="74.5" y2="417.7" stroke="#444" stroke-width="1"/>
<text x="74.8" y="426.9" font-size="8.6" text-anchor="middle" fill="#111">100</text>
<line x1="98.5" y1="414.5" x2="98.5" y2="417.7" stroke="#444" stroke-width="1"/>
<text x="98.2" y="426.9" font-size="8.6" text-anchor="middle" fill="#111">200</text>
<line x1="121.5" y1="414.5" x2="121.5" y2="417.7" stroke="#444" stroke-width="1"/>
<text x="121.6" y="426.9" font-size="8.6" text-anchor="middle" fill="#111">300</text>
<line x1="145.5" y1="414.5" x2="145.5" y2="417.7" stroke="#444" stroke-width="1"/>
<text x="145" y="426.9" font-size="8.6" text-anchor="middle" fill="#111">400</text>
<line x1="44.1" y1="410.5" x2="47.5" y2="410.5" stroke="#444" stroke-width="1"/>
<text transform="translate(38.95,410.4) rotate(-90)" font-size="8.6" text-anchor="middle" fill="#111">0</text>
<line x1="44.1" y1="391.5" x2="47.5" y2="391.5" stroke="#444" stroke-width="1"/>
<line x1="44.1" y1="371.5" x2="47.5" y2="371.5" stroke="#444" stroke-width="1"/>
<text transform="translate(38.95,371.7) rotate(-90)" font-size="8.6" text-anchor="middle" fill="#111">4000</text>
<line x1="44.1" y1="352.5" x2="47.5" y2="352.5" stroke="#444" stroke-width="1"/>
<line x1="44.1" y1="333.5" x2="47.5" y2="333.5" stroke="#444" stroke-width="1"/>
<text transform="translate(38.95,333) rotate(-90)" font-size="8.6" text-anchor="middle" fill="#111">8000</text>
<line x1="44.1" y1="313.5" x2="47.5" y2="313.5" stroke="#444" stroke-width="1"/>
<line x1="198.4" y1="410.5" x2="305.2" y2="410.5" stroke="#1a1a1a" stroke-width="1"/>
<polygon fill="#000" points="200.8,410.4 200.8,410.4 201.8,408.9 202.8,405.7 203.6,401.4 203.9,395 204.1,384.3 204.2,373.5 204.4,352.1 204.7,327.9 205.7,327.9 206.1,352.1 206.6,373.5 207.3,384.3 208.4,395 209.5,401.4 210,405.7 211.1,408.9 213.2,410.4 213.2,410.4"/>
<line x1="208.48" y1="394.34" x2="208.48" y2="410.4" stroke="#111" stroke-width="0.8"/>
<line x1="209.52" y1="400.51" x2="209.52" y2="410.4" stroke="#111" stroke-width="0.8"/>
<line x1="210.81" y1="407.81" x2="210.81" y2="410.4" stroke="#111" stroke-width="0.8"/>
<polygon fill="#222" points="209,410.5 209,402.5 209.6,403.2 210.5,403.8 211.5,403.5 212.5,404 213.5,404.6 214.5,404.8 215.5,404.2 216.5,404.6 217.5,404 218.3,403.7 219,404.8 220.3,404.6 220.5,403.2 221.5,403.4 222.3,405.2 223.9,405.2 224.5,407.3 226.5,407.3 227,404.2 228.8,404.2 229,410.5"/>
<rect x="230.1" y="407" width="1.2" height="3.4" fill="#222"/>
<rect x="231.9" y="403.9" width="0.8" height="6.5" fill="#222"/>
<rect x="232.9" y="407" width="1.4" height="3.4" fill="#777"/>
<line x1="239.5" y1="406.1" x2="239.5" y2="410.4" stroke="#222" stroke-width="0.9"/>
<line x1="242.3" y1="405.4" x2="242.3" y2="410.4" stroke="#222" stroke-width="0.9"/>
<line x1="243.5" y1="405.4" x2="243.5" y2="410.4" stroke="#222" stroke-width="0.9"/>
<line x1="244.6" y1="405.4" x2="244.6" y2="410.4" stroke="#222" stroke-width="0.9"/>
<line x1="246.8" y1="405.2" x2="246.8" y2="410.4" stroke="#222" stroke-width="0.9"/>
<line x1="250.4" y1="405.2" x2="250.4" y2="410.4" stroke="#222" stroke-width="0.9"/>
<line x1="253.5" y1="399" x2="253.5" y2="410.4" stroke="#222" stroke-width="0.9"/>
<line x1="256.3" y1="404.3" x2="256.3" y2="410.4" stroke="#222" stroke-width="0.9"/>
<line x1="257.4" y1="404.3" x2="257.4" y2="410.4" stroke="#222" stroke-width="0.9"/>
<line x1="258.4" y1="404.3" x2="258.4" y2="410.4" stroke="#222" stroke-width="0.9"/>
<line x1="264" y1="403" x2="264" y2="410.4" stroke="#222" stroke-width="0.9"/>
<line x1="270.4" y1="403" x2="270.4" y2="410.4" stroke="#222" stroke-width="0.9"/>
<line x1="295.7" y1="400" x2="295.7" y2="410.4" stroke="#222" stroke-width="0.9"/>
<line x1="305.4" y1="399" x2="305.4" y2="410.4" stroke="#222" stroke-width="0.9"/>
<rect x="194.5" y="309.5" width="115" height="105" fill="none" stroke="#444" stroke-width="1"/>
<text x="252" y="307.9" font-size="10.1" text-anchor="middle" fill="#111">D2A2</text>
<text x="259.2" y="323.8" font-size="8.75" fill="#111">min = 16</text>
<text x="259.2" y="334.08" font-size="8.75" fill="#111">max = 733</text>
<text x="259.2" y="344.36" font-size="8.75" fill="#111">p15 = 0</text>
<text x="259.2" y="354.64" font-size="8.75" fill="#111">p30 = 0.009</text>
<text x="259.2" y="364.92" font-size="8.75" fill="#111">p50 = 0.451</text>
<line x1="198.5" y1="414.5" x2="198.5" y2="417.7" stroke="#444" stroke-width="1"/>
<text x="198.4" y="426.9" font-size="8.6" text-anchor="middle" fill="#111">0</text>
<line x1="227.5" y1="414.5" x2="227.5" y2="417.7" stroke="#444" stroke-width="1"/>
<text x="227.7" y="426.9" font-size="8.6" text-anchor="middle" fill="#111">200</text>
<line x1="257.5" y1="414.5" x2="257.5" y2="417.7" stroke="#444" stroke-width="1"/>
<text x="257" y="426.9" font-size="8.6" text-anchor="middle" fill="#111">400</text>
<line x1="286.5" y1="414.5" x2="286.5" y2="417.7" stroke="#444" stroke-width="1"/>
<text x="286.3" y="426.9" font-size="8.6" text-anchor="middle" fill="#111">600</text>
<line x1="191.1" y1="410.5" x2="194.5" y2="410.5" stroke="#444" stroke-width="1"/>
<text transform="translate(186.2,410.4) rotate(-90)" font-size="8.6" text-anchor="middle" fill="#111">0</text>
<line x1="191.1" y1="391.5" x2="194.5" y2="391.5" stroke="#444" stroke-width="1"/>
<line x1="191.1" y1="371.5" x2="194.5" y2="371.5" stroke="#444" stroke-width="1"/>
<text transform="translate(186.2,371.7) rotate(-90)" font-size="8.6" text-anchor="middle" fill="#111">4000</text>
<line x1="191.1" y1="352.5" x2="194.5" y2="352.5" stroke="#444" stroke-width="1"/>
<line x1="191.1" y1="333.5" x2="194.5" y2="333.5" stroke="#444" stroke-width="1"/>
<text transform="translate(186.2,333) rotate(-90)" font-size="8.6" text-anchor="middle" fill="#111">8000</text>
<line x1="191.1" y1="313.5" x2="194.5" y2="313.5" stroke="#444" stroke-width="1"/>
<line x1="345.4" y1="410.5" x2="452.4" y2="410.5" stroke="#1a1a1a" stroke-width="1"/>
<polygon fill="#000" points="346.15,410.4 346.15,410.4 347.15,409.9 348.1,408.2 349.3,405.7 349.9,402 350.5,392 350.8,374.7 350.7,354.8 350.5,330 350.5,310.5 351.8,310.5 352,330 352.4,354.8 352.8,374.7 353.4,392 354.6,402 356.1,405.7 358.6,408.2 363.15,409.9 366.15,410.4 366.15,410.4"/>
<line x1="354.19" y1="398" x2="354.19" y2="410.4" stroke="#111" stroke-width="0.8"/>
<line x1="356.61" y1="404.72" x2="356.61" y2="410.4" stroke="#111" stroke-width="0.8"/>
<line x1="357.99" y1="406.3" x2="357.99" y2="410.4" stroke="#111" stroke-width="0.8"/>
<line x1="359.22" y1="407.33" x2="359.22" y2="410.4" stroke="#111" stroke-width="0.8"/>
<line x1="360.45" y1="407.72" x2="360.45" y2="410.4" stroke="#111" stroke-width="0.8"/>
<line x1="364.32" y1="409.66" x2="364.32" y2="410.4" stroke="#111" stroke-width="0.8"/>
<line x1="365.33" y1="409.73" x2="365.33" y2="410.4" stroke="#111" stroke-width="0.8"/>
<line x1="366.8" y1="410.01" x2="366.8" y2="410.4" stroke="#111" stroke-width="0.8"/>
<line x1="369.54" y1="410.09" x2="369.54" y2="410.4" stroke="#111" stroke-width="0.8"/>
<line x1="371.78" y1="410.18" x2="371.78" y2="410.4" stroke="#111" stroke-width="0.8"/>
<line x1="358" y1="408" x2="358" y2="410.4" stroke="#222" stroke-width="0.9"/>
<line x1="360" y1="408.2" x2="360" y2="410.4" stroke="#222" stroke-width="0.9"/>
<line x1="365" y1="406.7" x2="365" y2="410.4" stroke="#222" stroke-width="0.9"/>
<line x1="366.7" y1="406.7" x2="366.7" y2="410.4" stroke="#222" stroke-width="0.9"/>
<line x1="369.2" y1="406" x2="369.2" y2="410.4" stroke="#222" stroke-width="0.9"/>
<line x1="373" y1="404.9" x2="373" y2="410.4" stroke="#222" stroke-width="0.9"/>
<line x1="376.5" y1="408.5" x2="376.5" y2="410.4" stroke="#222" stroke-width="0.9"/>
<rect x="341.5" y="309.5" width="115" height="105" fill="none" stroke="#444" stroke-width="1"/>
<text x="399.05" y="307.9" font-size="10.1" text-anchor="middle" fill="#111">D3A1</text>
<text x="406.1" y="323.8" font-size="8.75" fill="#111">min = 20</text>
<text x="406.1" y="334.08" font-size="8.75" fill="#111">max = 953</text>
<text x="406.1" y="344.36" font-size="8.75" fill="#111">p15 = 0</text>
<text x="406.1" y="354.64" font-size="8.75" fill="#111">p30 = 0.004</text>
<text x="406.1" y="364.92" font-size="8.75" fill="#111">p50 = 0.254</text>
<line x1="345.5" y1="414.5" x2="345.5" y2="417.7" stroke="#444" stroke-width="1"/>
<text x="345.4" y="426.9" font-size="8.6" text-anchor="middle" fill="#111">0</text>
<line x1="367.5" y1="414.5" x2="367.5" y2="417.7" stroke="#444" stroke-width="1"/>
<text x="367.7" y="426.9" font-size="8.6" text-anchor="middle" fill="#111">200</text>
<line x1="390.5" y1="414.5" x2="390.5" y2="417.7" stroke="#444" stroke-width="1"/>
<text x="390" y="426.9" font-size="8.6" text-anchor="middle" fill="#111">400</text>
<line x1="412.5" y1="414.5" x2="412.5" y2="417.7" stroke="#444" stroke-width="1"/>
<text x="412.3" y="426.9" font-size="8.6" text-anchor="middle" fill="#111">600</text>
<line x1="434.5" y1="414.5" x2="434.5" y2="417.7" stroke="#444" stroke-width="1"/>
<text x="434.6" y="426.9" font-size="8.6" text-anchor="middle" fill="#111">800</text>
<line x1="338.1" y1="410.5" x2="341.5" y2="410.5" stroke="#444" stroke-width="1"/>
<text transform="translate(333.1,410.4) rotate(-90)" font-size="8.6" text-anchor="middle" fill="#111">0</text>
<line x1="338.1" y1="391.5" x2="341.5" y2="391.5" stroke="#444" stroke-width="1"/>
<line x1="338.1" y1="371.5" x2="341.5" y2="371.5" stroke="#444" stroke-width="1"/>
<text transform="translate(333.1,371.7) rotate(-90)" font-size="8.6" text-anchor="middle" fill="#111">4000</text>
<line x1="338.1" y1="352.5" x2="341.5" y2="352.5" stroke="#444" stroke-width="1"/>
<line x1="338.1" y1="333.5" x2="341.5" y2="333.5" stroke="#444" stroke-width="1"/>
<text transform="translate(333.1,333) rotate(-90)" font-size="8.6" text-anchor="middle" fill="#111">8000</text>
<line x1="338.1" y1="313.5" x2="341.5" y2="313.5" stroke="#444" stroke-width="1"/>
<line x1="491.8" y1="410.5" x2="599" y2="410.5" stroke="#1a1a1a" stroke-width="1"/>
<polygon fill="#000" points="496.95,410.4 496.95,410.4 497.45,410.1 499.05,408.8 500.65,406.6 501.45,403.9 501.75,399.9 501.95,394.9 502.15,386.4 502.35,374.9 502.45,363.4 502.65,344.4 502.85,327.9 504.05,327.9 504.55,344.4 505.25,363.4 506.05,374.9 507.05,386.4 507.95,394.9 508.95,399.9 510.65,403.9 513.35,406.6 520.45,408.8 531.45,410.1 537.45,410.4 537.45,410.4"/>
<line x1="505.5" y1="366.15" x2="505.5" y2="410.4" stroke="#111" stroke-width="0.8"/>
<line x1="506.79" y1="383.24" x2="506.79" y2="410.4" stroke="#111" stroke-width="0.8"/>
<line x1="507.91" y1="394.38" x2="507.91" y2="410.4" stroke="#111" stroke-width="0.8"/>
<line x1="508.83" y1="398.32" x2="508.83" y2="410.4" stroke="#111" stroke-width="0.8"/>
<line x1="510.76" y1="403.54" x2="510.76" y2="410.4" stroke="#111" stroke-width="0.8"/>
<line x1="512.23" y1="404.33" x2="512.23" y2="410.4" stroke="#111" stroke-width="0.8"/>
<line x1="514.79" y1="406.79" x2="514.79" y2="410.4" stroke="#111" stroke-width="0.8"/>
<line x1="515.87" y1="406.03" x2="515.87" y2="410.4" stroke="#111" stroke-width="0.8"/>
<line x1="517.12" y1="406.79" x2="517.12" y2="410.4" stroke="#111" stroke-width="0.8"/>
<line x1="518.35" y1="408.06" x2="518.35" y2="410.4" stroke="#111" stroke-width="0.8"/>
<line x1="519.38" y1="407.56" x2="519.38" y2="410.4" stroke="#111" stroke-width="0.8"/>
<line x1="520.46" y1="408.08" x2="520.46" y2="410.4" stroke="#111" stroke-width="0.8"/>
<line x1="521.54" y1="408.03" x2="521.54" y2="410.4" stroke="#111" stroke-width="0.8"/>
<line x1="522.59" y1="408.46" x2="522.59" y2="410.4" stroke="#111" stroke-width="0.8"/>
<line x1="524.02" y1="408.56" x2="524.02" y2="410.4" stroke="#111" stroke-width="0.8"/>
<line x1="525.5" y1="409.31" x2="525.5" y2="410.4" stroke="#111" stroke-width="0.8"/>
<line x1="526.86" y1="409.46" x2="526.86" y2="410.4" stroke="#111" stroke-width="0.8"/>
<line x1="529.03" y1="409.24" x2="529.03" y2="410.4" stroke="#111" stroke-width="0.8"/>
<line x1="530.34" y1="409.58" x2="530.34" y2="410.4" stroke="#111" stroke-width="0.8"/>
<line x1="532.7" y1="409.73" x2="532.7" y2="410.4" stroke="#111" stroke-width="0.8"/>
<line x1="534.6" y1="407.5" x2="534.6" y2="410.4" stroke="#222" stroke-width="0.9"/>
<line x1="552" y1="408.5" x2="552" y2="410.4" stroke="#222" stroke-width="0.9"/>
<line x1="557.4" y1="408.5" x2="557.4" y2="410.4" stroke="#222" stroke-width="0.9"/>
<line x1="574" y1="408.5" x2="574" y2="410.4" stroke="#222" stroke-width="0.9"/>
<rect x="488.5" y="309.5" width="115" height="105" fill="none" stroke="#444" stroke-width="1"/>
<text x="545.7" y="307.9" font-size="10.1" text-anchor="middle" fill="#111">D3A2</text>
<text x="552.8" y="323.8" font-size="8.75" fill="#111">min = 20</text>
<text x="552.8" y="334.08" font-size="8.75" fill="#111">max = 460</text>
<text x="552.8" y="344.36" font-size="8.75" fill="#111">p15 = 0</text>
<text x="552.8" y="354.64" font-size="8.75" fill="#111">p30 = 0.005</text>
<text x="552.8" y="364.92" font-size="8.75" fill="#111">p50 = 0.367</text>
<line x1="491.5" y1="414.5" x2="491.5" y2="417.7" stroke="#444" stroke-width="1"/>
<text x="491.8" y="426.9" font-size="8.6" text-anchor="middle" fill="#111">0</text>
<line x1="515.5" y1="414.5" x2="515.5" y2="417.7" stroke="#444" stroke-width="1"/>
<text x="515.1" y="426.9" font-size="8.6" text-anchor="middle" fill="#111">100</text>
<line x1="538.5" y1="414.5" x2="538.5" y2="417.7" stroke="#444" stroke-width="1"/>
<text x="538.4" y="426.9" font-size="8.6" text-anchor="middle" fill="#111">200</text>
<line x1="561.5" y1="414.5" x2="561.5" y2="417.7" stroke="#444" stroke-width="1"/>
<text x="561.7" y="426.9" font-size="8.6" text-anchor="middle" fill="#111">300</text>
<line x1="585.5" y1="414.5" x2="585.5" y2="417.7" stroke="#444" stroke-width="1"/>
<text x="585" y="426.9" font-size="8.6" text-anchor="middle" fill="#111">400</text>
<line x1="485.1" y1="410.5" x2="488.5" y2="410.5" stroke="#444" stroke-width="1"/>
<text transform="translate(479.8,410.4) rotate(-90)" font-size="8.6" text-anchor="middle" fill="#111">0</text>
<line x1="485.1" y1="391.5" x2="488.5" y2="391.5" stroke="#444" stroke-width="1"/>
<line x1="485.1" y1="371.5" x2="488.5" y2="371.5" stroke="#444" stroke-width="1"/>
<text transform="translate(479.8,371.7) rotate(-90)" font-size="8.6" text-anchor="middle" fill="#111">4000</text>
<line x1="485.1" y1="352.5" x2="488.5" y2="352.5" stroke="#444" stroke-width="1"/>
<line x1="485.1" y1="333.5" x2="488.5" y2="333.5" stroke="#444" stroke-width="1"/>
<text transform="translate(479.8,333) rotate(-90)" font-size="8.6" text-anchor="middle" fill="#111">8000</text>
<line x1="485.1" y1="313.5" x2="488.5" y2="313.5" stroke="#444" stroke-width="1"/>
<line x1="51.5" y1="577.3" x2="56.85" y2="577.3" stroke="#999" stroke-width="0.8"/>
<clipPath id="cl3"><polygon points="56.8,577.3 56.8,551.4 57.38,551.4 57.38,551.4 58.45,551.4 58.45,528 59.52,528 59.52,486.9 60.59,486.9 60.59,490.6 61.66,490.6 61.66,499.6 62.73,499.6 62.73,503.2 63.8,503.2 63.8,481.1 64.88,481.1 64.88,485.1 65.94,485.1 65.94,491.5 67.02,491.5 67.02,497 68.09,497 68.09,502 69.16,502 69.16,506.5 70.22,506.5 70.22,511 71.3,511 71.3,515 72.37,515 72.37,519 73.44,519 73.44,522.5 74.5,522.5 74.5,526 75.58,526 75.58,529 76.65,529 76.65,532 77.72,532 77.72,534.8 78.78,534.8 78.78,537.5 79.86,537.5 79.86,540.2 80.92,540.2 80.92,542.6 82,542.6 82,545.2 83.06,545.2 83.06,548 84.14,548 84.14,550.5 85.21,550.5 85.21,553 86.28,553 86.28,555 87.34,555 87.34,556.6 88.41,556.6 88.41,558.2 89.48,558.2 89.48,559.8 90.56,559.8 90.56,561.2 91.62,561.2 91.62,562.2 92.69,562.2 92.69,562.2 93.77,562.2 93.77,560 94.84,560 94.84,558.1 95.91,558.1 95.91,556.5 96.97,556.5 96.97,555 98.05,555 98.05,554.2 99.12,554.2 99.12,553.6 100.19,553.6 100.19,553.2 101.25,553.2 101.25,553.4 102.33,553.4 102.33,553.9 103.4,553.9 103.4,555 104.47,555 104.47,556.6 105.53,556.6 105.53,558.2 106.61,558.2 106.61,561 107.68,561 107.68,563.6 108.75,563.6 108.75,566 109.81,566 109.81,568 110.89,568 110.89,569.5 111.96,569.5 111.96,570.8 113.03,570.8 113.03,572 114.09,572 114.09,572.8 115.17,572.8 115.17,573.4 116.23,573.4 116.23,573.85 117.31,573.85 117.31,574.3 118.38,574.3 118.38,574.7 119.45,574.7 119.45,575.1 120.52,575.1 120.52,575.35 121.59,575.35 121.59,575.6 122.66,575.6 122.66,575.8 123.73,575.8 123.73,576 124.8,576 124.8,576.15 125.87,576.15 125.87,576.3 126.94,576.3 126.94,576.4 128,576.4 128,576.4 129.07,576.4 129.07,576.4 130.15,576.4 130.15,576.4 131.22,576.4 131.22,576.4 132.29,576.4 132.29,576.4 133.36,576.4 133.36,576.4 134.43,576.4 134.43,576.4 135.5,576.4 135.5,576.4 136.56,576.4 136.56,576.4 137.63,576.4 137.63,576.4 138.7,576.4 138.7,576.4 139.78,576.4 139.78,576.4 140.84,576.4 140.84,576.4 141.92,576.4 141.92,576.4 142.99,576.4 142.99,576.4 144.06,576.4 144.06,576.4 145.12,576.4 145.12,576.4 146.19,576.4 146.19,576.4 147.26,576.4 147.26,576.4 148.34,576.4 148.34,576.4 149.41,576.4 149.41,576.4 150.48,576.4 150.48,576.4 151.55,576.4 151.55,576.4 152.62,576.4 152.62,576.4 153.69,576.4 153.69,576.4 154.75,576.4 154.75,576.4 155.82,576.4 155.82,576.4 156.9,576.4 156.9,576.4 157.97,576.4 157.97,576.4 159.04,576.4 159.04,576.4 160.11,576.4 160.11,576.4 161.18,576.4 161.18,576.4 161.8,576.4 161.8,577.3"/></clipPath>
<g clip-path="url(#cl3)">
<rect x="50" y="477.4" width="115" height="110" fill="#595959"/>
<rect x="56.8" y="477.4" width="2.2" height="110" fill="#7c7c7c"/>
<rect x="59" y="477.4" width="1.3" height="110" fill="#666"/>
<rect x="60.3" y="477.4" width="2.3" height="110" fill="#4e4e4e"/>
<rect x="62.5" y="477.4" width="2.18" height="110" fill="#6a6a6a"/>
<rect x="64.57" y="477.4" width="1.79" height="110" fill="#555555"/>
<rect x="66.26" y="477.4" width="2.19" height="110" fill="#727272"/>
<rect x="68.35" y="477.4" width="2.41" height="110" fill="#4a4a4a"/>
<rect x="70.66" y="477.4" width="1.55" height="110" fill="#797979"/>
<rect x="72.11" y="477.4" width="1.96" height="110" fill="#4b4b4b"/>
<rect x="73.97" y="477.4" width="2.83" height="110" fill="#757575"/>
<rect x="76.7" y="477.4" width="1.56" height="110" fill="#555555"/>
<rect x="78.17" y="477.4" width="1.69" height="110" fill="#757575"/>
<rect x="79.76" y="477.4" width="2.03" height="110" fill="#4c4c4c"/>
<rect x="81.69" y="477.4" width="2.66" height="110" fill="#727272"/>
<rect x="84.25" y="477.4" width="2.14" height="110" fill="#525252"/>
<rect x="86.29" y="477.4" width="1.92" height="110" fill="#757575"/>
<rect x="88.12" y="477.4" width="1.69" height="110" fill="#545454"/>
<rect x="89.7" y="477.4" width="2.7" height="110" fill="#717171"/>
<rect x="92.31" y="477.4" width="2.86" height="110" fill="#515151"/>
<rect x="95.06" y="477.4" width="2.03" height="110" fill="#7c7c7c"/>
<rect x="96.99" y="477.4" width="1.51" height="110" fill="#4a4a4a"/>
<rect x="98.39" y="477.4" width="1.77" height="110" fill="#737373"/>
<rect x="100.07" y="477.4" width="2.25" height="110" fill="#545454"/>
<rect x="102.22" y="477.4" width="2.76" height="110" fill="#747474"/>
<rect x="104.88" y="477.4" width="2.43" height="110" fill="#4f4f4f"/>
<rect x="107.21" y="477.4" width="2.11" height="110" fill="#6c6c6c"/>
<rect x="109.22" y="477.4" width="2.41" height="110" fill="#4d4d4d"/>
<rect x="111.53" y="477.4" width="2.68" height="110" fill="#6f6f6f"/>
<rect x="114.12" y="477.4" width="2.68" height="110" fill="#4e4e4e"/>
<rect x="116.69" y="477.4" width="1.83" height="110" fill="#6b6b6b"/>
<rect x="118.43" y="477.4" width="2.2" height="110" fill="#555555"/>
<rect x="120.52" y="477.4" width="2.35" height="110" fill="#6c6c6c"/>
<rect x="122.77" y="477.4" width="2.25" height="110" fill="#555555"/>
<rect x="124.92" y="477.4" width="1.61" height="110" fill="#767676"/>
<rect x="126.43" y="477.4" width="2.29" height="110" fill="#4d4d4d"/>
<rect x="128.63" y="477.4" width="2.78" height="110" fill="#6e6e6e"/>
<rect x="131.31" y="477.4" width="1.66" height="110" fill="#545454"/>
<rect x="132.86" y="477.4" width="2.58" height="110" fill="#787878"/>
<rect x="135.35" y="477.4" width="1.73" height="110" fill="#545454"/>
<rect x="136.98" y="477.4" width="1.77" height="110" fill="#757575"/>
<rect x="138.65" y="477.4" width="2.11" height="110" fill="#4e4e4e"/>
<rect x="140.65" y="477.4" width="2.12" height="110" fill="#7f7f7f"/>
<rect x="142.68" y="477.4" width="1.88" height="110" fill="#515151"/>
<rect x="144.46" y="477.4" width="2.23" height="110" fill="#6d6d6d"/>
<rect x="146.59" y="477.4" width="1.87" height="110" fill="#4c4c4c"/>
<rect x="148.37" y="477.4" width="1.73" height="110" fill="#7e7e7e"/>
<rect x="150" y="477.4" width="2.82" height="110" fill="#4a4a4a"/>
<rect x="152.72" y="477.4" width="2.59" height="110" fill="#797979"/>
<rect x="155.2" y="477.4" width="2.58" height="110" fill="#4d4d4d"/>
<rect x="157.69" y="477.4" width="2.11" height="110" fill="#6a6a6a"/>
<rect x="159.7" y="477.4" width="2.26" height="110" fill="#484848"/>
</g>
<rect x="47.5" y="477.5" width="115" height="104" fill="none" stroke="#444" stroke-width="1"/>
<text x="104.88" y="475.9" font-size="10.1" text-anchor="middle" fill="#111">Overall</text>
<text x="111.95" y="491.3" font-size="8.75" fill="#111">min = 5</text>
<text x="111.95" y="501.58" font-size="8.75" fill="#111">max = 695</text>
<text x="111.95" y="511.86" font-size="8.75" fill="#111">p15 = 0.373</text>
<text x="111.95" y="522.14" font-size="8.75" fill="#111">p30 = 0.73</text>
<text x="111.95" y="532.42" font-size="8.75" fill="#111">p50 = 0.93</text>
<line x1="51.5" y1="581.5" x2="51.5" y2="584.7" stroke="#444" stroke-width="1"/>
<text x="51.5" y="594.4" font-size="8.6" text-anchor="middle" fill="#111">0</text>
<line x1="72.5" y1="581.5" x2="72.5" y2="584.7" stroke="#444" stroke-width="1"/>
<text x="72.9" y="594.4" font-size="8.6" text-anchor="middle" fill="#111">20</text>
<line x1="94.5" y1="581.5" x2="94.5" y2="584.7" stroke="#444" stroke-width="1"/>
<text x="94.3" y="594.4" font-size="8.6" text-anchor="middle" fill="#111">40</text>
<line x1="115.5" y1="581.5" x2="115.5" y2="584.7" stroke="#444" stroke-width="1"/>
<text x="115.7" y="594.4" font-size="8.6" text-anchor="middle" fill="#111">60</text>
<line x1="137.5" y1="581.5" x2="137.5" y2="584.7" stroke="#444" stroke-width="1"/>
<text x="137.1" y="594.4" font-size="8.6" text-anchor="middle" fill="#111">80</text>
<line x1="158.5" y1="581.5" x2="158.5" y2="584.7" stroke="#444" stroke-width="1"/>
<text x="158.5" y="594.4" font-size="8.6" text-anchor="middle" fill="#111">100</text>
<line x1="44.1" y1="577.5" x2="47.5" y2="577.5" stroke="#444" stroke-width="1"/>
<text transform="translate(38.95,577.3) rotate(-90)" font-size="8.6" text-anchor="middle" fill="#111">0</text>
<line x1="44.1" y1="562.5" x2="47.5" y2="562.5" stroke="#444" stroke-width="1"/>
<line x1="44.1" y1="547.5" x2="47.5" y2="547.5" stroke="#444" stroke-width="1"/>
<text transform="translate(38.95,547.64) rotate(-90)" font-size="8.6" text-anchor="middle" fill="#111">100000</text>
<line x1="44.1" y1="532.5" x2="47.5" y2="532.5" stroke="#444" stroke-width="1"/>
<line x1="44.1" y1="517.5" x2="47.5" y2="517.5" stroke="#444" stroke-width="1"/>
<line x1="44.1" y1="503.5" x2="47.5" y2="503.5" stroke="#444" stroke-width="1"/>
<text transform="translate(38.95,503.15) rotate(-90)" font-size="8.6" text-anchor="middle" fill="#111">250000</text>
<line x1="44.1" y1="488.5" x2="47.5" y2="488.5" stroke="#444" stroke-width="1"/>
<line x1="198.4" y1="577.5" x2="305.2" y2="577.5" stroke="#1a1a1a" stroke-width="1"/>
<polygon fill="#000" points="198.6,577.3 198.6,493 199.9,493 200.6,517.2 201.7,538.6 202.8,560 203.9,569.7 205.3,575 207.9,576.7 215.4,577.3 222,576.9 222,577.3"/>
<rect x="194.5" y="477.5" width="115" height="104" fill="none" stroke="#444" stroke-width="1"/>
<text x="252" y="475.9" font-size="10.1" text-anchor="middle" fill="#111">D1</text>
<text x="259.2" y="491.3" font-size="8.75" fill="#111">min = 5</text>
<text x="259.2" y="501.58" font-size="8.75" fill="#111">max = 688</text>
<text x="259.2" y="511.86" font-size="8.75" fill="#111">p15 = 0.549</text>
<text x="259.2" y="522.14" font-size="8.75" fill="#111">p30 = 0.898</text>
<text x="259.2" y="532.42" font-size="8.75" fill="#111">p50 = 0.985</text>
<line x1="198.5" y1="581.5" x2="198.5" y2="584.7" stroke="#444" stroke-width="1"/>
<text x="198.4" y="594.4" font-size="8.6" text-anchor="middle" fill="#111">0</text>
<line x1="214.5" y1="581.5" x2="214.5" y2="584.7" stroke="#444" stroke-width="1"/>
<line x1="229.5" y1="581.5" x2="229.5" y2="584.7" stroke="#444" stroke-width="1"/>
<text x="229.6" y="594.4" font-size="8.6" text-anchor="middle" fill="#111">200</text>
<line x1="245.5" y1="581.5" x2="245.5" y2="584.7" stroke="#444" stroke-width="1"/>
<line x1="260.5" y1="581.5" x2="260.5" y2="584.7" stroke="#444" stroke-width="1"/>
<text x="260.8" y="594.4" font-size="8.6" text-anchor="middle" fill="#111">400</text>
<line x1="276.5" y1="581.5" x2="276.5" y2="584.7" stroke="#444" stroke-width="1"/>
<line x1="292.5" y1="581.5" x2="292.5" y2="584.7" stroke="#444" stroke-width="1"/>
<text x="292" y="594.4" font-size="8.6" text-anchor="middle" fill="#111">600</text>
<line x1="307.5" y1="581.5" x2="307.5" y2="584.7" stroke="#444" stroke-width="1"/>
<line x1="191.1" y1="577.5" x2="194.5" y2="577.5" stroke="#444" stroke-width="1"/>
<text transform="translate(186.2,577.3) rotate(-90)" font-size="8.6" text-anchor="middle" fill="#111">0e+00</text>
<line x1="191.1" y1="557.5" x2="194.5" y2="557.5" stroke="#444" stroke-width="1"/>
<line x1="191.1" y1="538.5" x2="194.5" y2="538.5" stroke="#444" stroke-width="1"/>
<text transform="translate(186.2,538.6) rotate(-90)" font-size="8.6" text-anchor="middle" fill="#111">4e+04</text>
<line x1="191.1" y1="519.5" x2="194.5" y2="519.5" stroke="#444" stroke-width="1"/>
<line x1="191.1" y1="499.5" x2="194.5" y2="499.5" stroke="#444" stroke-width="1"/>
<text transform="translate(186.2,499.9) rotate(-90)" font-size="8.6" text-anchor="middle" fill="#111">8e+04</text>
<line x1="191.1" y1="480.5" x2="194.5" y2="480.5" stroke="#444" stroke-width="1"/>
<line x1="345.4" y1="577.5" x2="452.4" y2="577.5" stroke="#1a1a1a" stroke-width="1"/>
<polygon fill="#000" points="345.9,577.3 345.9,530.5 347,530.5 347,543.7 347.8,550.5 348.8,560.6 350.1,569.4 351.5,574.2 353.5,576.5 357.9,577.3 364,576.9 364,577.3"/>
<rect x="341.5" y="477.5" width="115" height="104" fill="none" stroke="#444" stroke-width="1"/>
<text x="399.05" y="475.9" font-size="10.1" text-anchor="middle" fill="#111">D2</text>
<text x="406.1" y="491.3" font-size="8.75" fill="#111">min = 8</text>
<text x="406.1" y="501.58" font-size="8.75" fill="#111">max = 691</text>
<text x="406.1" y="511.86" font-size="8.75" fill="#111">p15 = 0.442</text>
<text x="406.1" y="522.14" font-size="8.75" fill="#111">p30 = 0.848</text>
<text x="406.1" y="532.42" font-size="8.75" fill="#111">p50 = 0.978</text>
<line x1="345.5" y1="581.5" x2="345.5" y2="584.7" stroke="#444" stroke-width="1"/>
<text x="345.4" y="594.4" font-size="8.6" text-anchor="middle" fill="#111">0</text>
<line x1="360.5" y1="581.5" x2="360.5" y2="584.7" stroke="#444" stroke-width="1"/>
<line x1="376.5" y1="581.5" x2="376.5" y2="584.7" stroke="#444" stroke-width="1"/>
<text x="376.4" y="594.4" font-size="8.6" text-anchor="middle" fill="#111">200</text>
<line x1="391.5" y1="581.5" x2="391.5" y2="584.7" stroke="#444" stroke-width="1"/>
<line x1="407.5" y1="581.5" x2="407.5" y2="584.7" stroke="#444" stroke-width="1"/>
<text x="407.4" y="594.4" font-size="8.6" text-anchor="middle" fill="#111">400</text>
<line x1="422.5" y1="581.5" x2="422.5" y2="584.7" stroke="#444" stroke-width="1"/>
<line x1="438.5" y1="581.5" x2="438.5" y2="584.7" stroke="#444" stroke-width="1"/>
<text x="438.4" y="594.4" font-size="8.6" text-anchor="middle" fill="#111">600</text>
<line x1="453.5" y1="581.5" x2="453.5" y2="584.7" stroke="#444" stroke-width="1"/>
<line x1="338.1" y1="577.5" x2="341.5" y2="577.5" stroke="#444" stroke-width="1"/>
<text transform="translate(333.1,577.3) rotate(-90)" font-size="8.6" text-anchor="middle" fill="#111">0e+00</text>
<line x1="338.1" y1="557.5" x2="341.5" y2="557.5" stroke="#444" stroke-width="1"/>
<line x1="338.1" y1="538.5" x2="341.5" y2="538.5" stroke="#444" stroke-width="1"/>
<text transform="translate(333.1,538.6) rotate(-90)" font-size="8.6" text-anchor="middle" fill="#111">4e+04</text>
<line x1="338.1" y1="519.5" x2="341.5" y2="519.5" stroke="#444" stroke-width="1"/>
<line x1="338.1" y1="499.5" x2="341.5" y2="499.5" stroke="#444" stroke-width="1"/>
<text transform="translate(333.1,499.9) rotate(-90)" font-size="8.6" text-anchor="middle" fill="#111">8e+04</text>
<line x1="338.1" y1="480.5" x2="341.5" y2="480.5" stroke="#444" stroke-width="1"/>
<line x1="491.8" y1="577.5" x2="599" y2="577.5" stroke="#1a1a1a" stroke-width="1"/>
<polygon fill="#000" points="493.4,577.3 493.4,493.4 494.6,493.4 495.5,517.2 496.6,538.6 497.9,560 498.7,569.7 500,575 503,576.7 509.4,577.3 516,576.9 516,577.3"/>
<rect x="488.5" y="477.5" width="115" height="104" fill="none" stroke="#444" stroke-width="1"/>
<text x="545.7" y="475.9" font-size="10.1" text-anchor="middle" fill="#111">D3</text>
<text x="552.8" y="491.3" font-size="8.75" fill="#111">min = 12</text>
<text x="552.8" y="501.58" font-size="8.75" fill="#111">max = 695</text>
<text x="552.8" y="511.86" font-size="8.75" fill="#111">p15 = 0.236</text>
<text x="552.8" y="522.14" font-size="8.75" fill="#111">p30 = 0.779</text>
<text x="552.8" y="532.42" font-size="8.75" fill="#111">p50 = 0.974</text>
<line x1="491.5" y1="581.5" x2="491.5" y2="584.7" stroke="#444" stroke-width="1"/>
<text x="491.8" y="594.4" font-size="8.6" text-anchor="middle" fill="#111">0</text>
<line x1="507.5" y1="581.5" x2="507.5" y2="584.7" stroke="#444" stroke-width="1"/>
<line x1="522.5" y1="581.5" x2="522.5" y2="584.7" stroke="#444" stroke-width="1"/>
<text x="522.6" y="594.4" font-size="8.6" text-anchor="middle" fill="#111">200</text>
<line x1="538.5" y1="581.5" x2="538.5" y2="584.7" stroke="#444" stroke-width="1"/>
<line x1="553.5" y1="581.5" x2="553.5" y2="584.7" stroke="#444" stroke-width="1"/>
<text x="553.4" y="594.4" font-size="8.6" text-anchor="middle" fill="#111">400</text>
<line x1="568.5" y1="581.5" x2="568.5" y2="584.7" stroke="#444" stroke-width="1"/>
<line x1="584.5" y1="581.5" x2="584.5" y2="584.7" stroke="#444" stroke-width="1"/>
<text x="584.2" y="594.4" font-size="8.6" text-anchor="middle" fill="#111">600</text>
<line x1="599.5" y1="581.5" x2="599.5" y2="584.7" stroke="#444" stroke-width="1"/>
<line x1="485.1" y1="577.5" x2="488.5" y2="577.5" stroke="#444" stroke-width="1"/>
<text transform="translate(479.8,577.3) rotate(-90)" font-size="8.6" text-anchor="middle" fill="#111">0e+00</text>
<line x1="485.1" y1="557.5" x2="488.5" y2="557.5" stroke="#444" stroke-width="1"/>
<line x1="485.1" y1="538.5" x2="488.5" y2="538.5" stroke="#444" stroke-width="1"/>
<text transform="translate(479.8,538.6) rotate(-90)" font-size="8.6" text-anchor="middle" fill="#111">4e+04</text>
<line x1="485.1" y1="519.5" x2="488.5" y2="519.5" stroke="#444" stroke-width="1"/>
<line x1="485.1" y1="499.5" x2="488.5" y2="499.5" stroke="#444" stroke-width="1"/>
<text transform="translate(479.8,499.9) rotate(-90)" font-size="8.6" text-anchor="middle" fill="#111">8e+04</text>
<line x1="485.1" y1="480.5" x2="488.5" y2="480.5" stroke="#444" stroke-width="1"/>
<line x1="51.4" y1="713.5" x2="158.2" y2="713.5" stroke="#1a1a1a" stroke-width="1"/>
<polygon fill="#000" points="54.75,713.5 54.75,622.3 55.7,622.3 56.9,638.7 58.7,656.5 60.4,674.3 62.2,683.7 64.6,690.8 67,698 68.7,703.9 71.1,708.6 75.3,711.6 83.6,713.1 95,713.1 95,713.5"/>
<rect x="47.5" y="613.5" width="115" height="104" fill="none" stroke="#444" stroke-width="1"/>
<text x="104.88" y="611.9" font-size="10.1" text-anchor="middle" fill="#111">A1</text>
<text x="111.95" y="627.4" font-size="8.75" fill="#111">min = 8</text>
<text x="111.95" y="637.68" font-size="8.75" fill="#111">max = 229</text>
<text x="111.95" y="647.96" font-size="8.75" fill="#111">p15 = 0.459</text>
<text x="111.95" y="658.24" font-size="8.75" fill="#111">p30 = 0.859</text>
<text x="111.95" y="668.52" font-size="8.75" fill="#111">p50 = 0.982</text>
<line x1="51.5" y1="717.5" x2="51.5" y2="720.7" stroke="#444" stroke-width="1"/>
<text x="51.4" y="730.3" font-size="8.6" text-anchor="middle" fill="#111">0</text>
<line x1="74.5" y1="717.5" x2="74.5" y2="720.7" stroke="#444" stroke-width="1"/>
<text x="74.8" y="730.3" font-size="8.6" text-anchor="middle" fill="#111">50</text>
<line x1="98.5" y1="717.5" x2="98.5" y2="720.7" stroke="#444" stroke-width="1"/>
<text x="98.2" y="730.3" font-size="8.6" text-anchor="middle" fill="#111">100</text>
<line x1="121.5" y1="717.5" x2="121.5" y2="720.7" stroke="#444" stroke-width="1"/>
<text x="121.6" y="730.3" font-size="8.6" text-anchor="middle" fill="#111">150</text>
<line x1="145.5" y1="717.5" x2="145.5" y2="720.7" stroke="#444" stroke-width="1"/>
<text x="145" y="730.3" font-size="8.6" text-anchor="middle" fill="#111">200</text>
<line x1="44.1" y1="713.5" x2="47.5" y2="713.5" stroke="#444" stroke-width="1"/>
<text transform="translate(38.95,713.5) rotate(-90)" font-size="8.6" text-anchor="middle" fill="#111">0e+00</text>
<line x1="44.1" y1="694.5" x2="47.5" y2="694.5" stroke="#444" stroke-width="1"/>
<line x1="44.1" y1="674.5" x2="47.5" y2="674.5" stroke="#444" stroke-width="1"/>
<text transform="translate(38.95,674.8) rotate(-90)" font-size="8.6" text-anchor="middle" fill="#111">4e+04</text>
<line x1="44.1" y1="655.5" x2="47.5" y2="655.5" stroke="#444" stroke-width="1"/>
<line x1="44.1" y1="636.5" x2="47.5" y2="636.5" stroke="#444" stroke-width="1"/>
<text transform="translate(38.95,636.1) rotate(-90)" font-size="8.6" text-anchor="middle" fill="#111">8e+04</text>
<line x1="44.1" y1="616.5" x2="47.5" y2="616.5" stroke="#444" stroke-width="1"/>
<line x1="198.4" y1="713.5" x2="305.2" y2="713.5" stroke="#1a1a1a" stroke-width="1"/>
<polygon fill="#000" points="200.9,713.5 200.9,631.6 201.9,631.6 203.3,650.6 205.1,666 206.9,676.6 209.2,686.1 212.2,695.6 214.6,702.7 216.9,708.6 221.1,711.6 229.4,713.1 242,713.1 242,713.5"/>
<rect x="194.5" y="613.5" width="115" height="104" fill="none" stroke="#444" stroke-width="1"/>
<text x="252" y="611.9" font-size="10.1" text-anchor="middle" fill="#111">A2</text>
<text x="259.2" y="627.4" font-size="8.75" fill="#111">min = 6</text>
<text x="259.2" y="637.68" font-size="8.75" fill="#111">max = 226</text>
<text x="259.2" y="647.96" font-size="8.75" fill="#111">p15 = 0.503</text>
<text x="259.2" y="658.24" font-size="8.75" fill="#111">p30 = 0.877</text>
<text x="259.2" y="668.52" font-size="8.75" fill="#111">p50 = 0.984</text>
<line x1="198.5" y1="717.5" x2="198.5" y2="720.7" stroke="#444" stroke-width="1"/>
<text x="198.4" y="730.3" font-size="8.6" text-anchor="middle" fill="#111">0</text>
<line x1="221.5" y1="717.5" x2="221.5" y2="720.7" stroke="#444" stroke-width="1"/>
<text x="221.95" y="730.3" font-size="8.6" text-anchor="middle" fill="#111">50</text>
<line x1="245.5" y1="717.5" x2="245.5" y2="720.7" stroke="#444" stroke-width="1"/>
<text x="245.5" y="730.3" font-size="8.6" text-anchor="middle" fill="#111">100</text>
<line x1="269.5" y1="717.5" x2="269.5" y2="720.7" stroke="#444" stroke-width="1"/>
<text x="269.05" y="730.3" font-size="8.6" text-anchor="middle" fill="#111">150</text>
<line x1="292.5" y1="717.5" x2="292.5" y2="720.7" stroke="#444" stroke-width="1"/>
<text x="292.6" y="730.3" font-size="8.6" text-anchor="middle" fill="#111">200</text>
<line x1="191.1" y1="713.5" x2="194.5" y2="713.5" stroke="#444" stroke-width="1"/>
<text transform="translate(186.2,713.5) rotate(-90)" font-size="8.6" text-anchor="middle" fill="#111">0e+00</text>
<line x1="191.1" y1="694.5" x2="194.5" y2="694.5" stroke="#444" stroke-width="1"/>
<line x1="191.1" y1="674.5" x2="194.5" y2="674.5" stroke="#444" stroke-width="1"/>
<text transform="translate(186.2,674.8) rotate(-90)" font-size="8.6" text-anchor="middle" fill="#111">4e+04</text>
<line x1="191.1" y1="655.5" x2="194.5" y2="655.5" stroke="#444" stroke-width="1"/>
<line x1="191.1" y1="636.5" x2="194.5" y2="636.5" stroke="#444" stroke-width="1"/>
<text transform="translate(186.2,636.1) rotate(-90)" font-size="8.6" text-anchor="middle" fill="#111">8e+04</text>
<line x1="191.1" y1="616.5" x2="194.5" y2="616.5" stroke="#444" stroke-width="1"/>
<line x1="345.4" y1="713.5" x2="452.4" y2="713.5" stroke="#1a1a1a" stroke-width="1"/>
<polygon fill="#000" points="360.92,713.5 360.92,713.5 361.23,713.21 361.63,712.73 362.04,711.96 362.55,710.81 363.16,708.7 363.67,705.44 364.38,700.06 364.89,694.3 366.41,694.3 367.13,700.06 368.14,705.44 369.26,708.7 370.48,710.81 372.93,711.96 376.28,712.73 381.37,713.21 383.91,713.5 383.91,713.5"/>
<rect x="341.5" y="613.5" width="115" height="104" fill="none" stroke="#444" stroke-width="1"/>
<text x="399.05" y="611.9" font-size="10.1" text-anchor="middle" fill="#111">D1A1</text>
<text x="406.1" y="627.4" font-size="8.75" fill="#111">min = 16</text>
<text x="406.1" y="637.68" font-size="8.75" fill="#111">max = 227</text>
<text x="406.1" y="647.96" font-size="8.75" fill="#111">p15 = 0</text>
<text x="406.1" y="658.24" font-size="8.75" fill="#111">p30 = 0.005</text>
<text x="406.1" y="668.52" font-size="8.75" fill="#111">p50 = 0.793</text>
<line x1="345.5" y1="717.5" x2="345.5" y2="720.7" stroke="#444" stroke-width="1"/>
<text x="345.4" y="730.3" font-size="8.6" text-anchor="middle" fill="#111">0</text>
<line x1="368.5" y1="717.5" x2="368.5" y2="720.7" stroke="#444" stroke-width="1"/>
<text x="368.8" y="730.3" font-size="8.6" text-anchor="middle" fill="#111">50</text>
<line x1="392.5" y1="717.5" x2="392.5" y2="720.7" stroke="#444" stroke-width="1"/>
<text x="392.2" y="730.3" font-size="8.6" text-anchor="middle" fill="#111">100</text>
<line x1="415.5" y1="717.5" x2="415.5" y2="720.7" stroke="#444" stroke-width="1"/>
<text x="415.6" y="730.3" font-size="8.6" text-anchor="middle" fill="#111">150</text>
<line x1="439.5" y1="717.5" x2="439.5" y2="720.7" stroke="#444" stroke-width="1"/>
<text x="439" y="730.3" font-size="8.6" text-anchor="middle" fill="#111">200</text>
<line x1="338.1" y1="713.5" x2="341.5" y2="713.5" stroke="#444" stroke-width="1"/>
<text transform="translate(333.1,713.5) rotate(-90)" font-size="8.6" text-anchor="middle" fill="#111">0e+00</text>
<line x1="338.1" y1="694.5" x2="341.5" y2="694.5" stroke="#444" stroke-width="1"/>
<line x1="338.1" y1="674.5" x2="341.5" y2="674.5" stroke="#444" stroke-width="1"/>
<text transform="translate(333.1,674.8) rotate(-90)" font-size="8.6" text-anchor="middle" fill="#111">4e+04</text>
<line x1="338.1" y1="655.5" x2="341.5" y2="655.5" stroke="#444" stroke-width="1"/>
<line x1="338.1" y1="636.5" x2="341.5" y2="636.5" stroke="#444" stroke-width="1"/>
<text transform="translate(333.1,636.1) rotate(-90)" font-size="8.6" text-anchor="middle" fill="#111">8e+04</text>
<line x1="338.1" y1="616.5" x2="341.5" y2="616.5" stroke="#444" stroke-width="1"/>
<line x1="491.8" y1="713.5" x2="599" y2="713.5" stroke="#1a1a1a" stroke-width="1"/>
<polygon fill="#000" points="506.44,713.5 506.44,713.5 506.74,713.28 507.13,712.92 507.53,712.35 508.03,711.48 508.62,709.9 509.12,707.45 509.81,703.42 510.31,699.1 511.79,699.1 512.49,703.42 513.48,707.45 514.57,709.9 515.76,711.48 518.14,712.35 521.41,712.92 526.37,713.28 528.84,713.5 528.84,713.5"/>
<rect x="488.5" y="613.5" width="115" height="104" fill="none" stroke="#444" stroke-width="1"/>
<text x="545.7" y="611.9" font-size="10.1" text-anchor="middle" fill="#111">D1A2</text>
<text x="552.8" y="627.4" font-size="8.75" fill="#111">min = 17</text>
<text x="552.8" y="637.68" font-size="8.75" fill="#111">max = 235</text>
<text x="552.8" y="647.96" font-size="8.75" fill="#111">p15 = 0</text>
<text x="552.8" y="658.24" font-size="8.75" fill="#111">p30 = 0.007</text>
<text x="552.8" y="668.52" font-size="8.75" fill="#111">p50 = 0.831</text>
<line x1="491.5" y1="717.5" x2="491.5" y2="720.7" stroke="#444" stroke-width="1"/>
<text x="491.8" y="730.3" font-size="8.6" text-anchor="middle" fill="#111">0</text>
<line x1="514.5" y1="717.5" x2="514.5" y2="720.7" stroke="#444" stroke-width="1"/>
<text x="514.6" y="730.3" font-size="8.6" text-anchor="middle" fill="#111">50</text>
<line x1="537.5" y1="717.5" x2="537.5" y2="720.7" stroke="#444" stroke-width="1"/>
<text x="537.4" y="730.3" font-size="8.6" text-anchor="middle" fill="#111">100</text>
<line x1="560.5" y1="717.5" x2="560.5" y2="720.7" stroke="#444" stroke-width="1"/>
<text x="560.2" y="730.3" font-size="8.6" text-anchor="middle" fill="#111">150</text>
<line x1="583.5" y1="717.5" x2="583.5" y2="720.7" stroke="#444" stroke-width="1"/>
<text x="583" y="730.3" font-size="8.6" text-anchor="middle" fill="#111">200</text>
<line x1="485.1" y1="713.5" x2="488.5" y2="713.5" stroke="#444" stroke-width="1"/>
<text transform="translate(479.8,713.5) rotate(-90)" font-size="8.6" text-anchor="middle" fill="#111">0e+00</text>
<line x1="485.1" y1="694.5" x2="488.5" y2="694.5" stroke="#444" stroke-width="1"/>
<line x1="485.1" y1="674.5" x2="488.5" y2="674.5" stroke="#444" stroke-width="1"/>
<text transform="translate(479.8,674.8) rotate(-90)" font-size="8.6" text-anchor="middle" fill="#111">4e+04</text>
<line x1="485.1" y1="655.5" x2="488.5" y2="655.5" stroke="#444" stroke-width="1"/>
<line x1="485.1" y1="636.5" x2="488.5" y2="636.5" stroke="#444" stroke-width="1"/>
<text transform="translate(479.8,636.1) rotate(-90)" font-size="8.6" text-anchor="middle" fill="#111">8e+04</text>
<line x1="485.1" y1="616.5" x2="488.5" y2="616.5" stroke="#444" stroke-width="1"/>
<line x1="51.4" y1="849.5" x2="158.2" y2="849.5" stroke="#1a1a1a" stroke-width="1"/>
<polygon fill="#000" points="67.94,849.4 67.94,849.4 68.23,849.18 68.62,848.82 69.01,848.25 69.49,847.38 70.07,845.8 70.56,843.35 71.24,839.32 71.72,835 73.18,835 73.85,839.32 74.82,843.35 75.89,845.8 77.05,847.38 79.38,848.25 82.58,848.82 87.43,849.18 89.85,849.4 89.85,849.4"/>
<rect x="47.5" y="748.5" width="115" height="105" fill="none" stroke="#444" stroke-width="1"/>
<text x="104.88" y="746.9" font-size="10.1" text-anchor="middle" fill="#111">D2A1</text>
<text x="111.95" y="762.5" font-size="8.75" fill="#111">min = 22</text>
<text x="111.95" y="772.78" font-size="8.75" fill="#111">max = 240</text>
<text x="111.95" y="783.06" font-size="8.75" fill="#111">p15 = 0</text>
<text x="111.95" y="793.34" font-size="8.75" fill="#111">p30 = 0.001</text>
<text x="111.95" y="803.62" font-size="8.75" fill="#111">p50 = 0.65</text>
<line x1="51.5" y1="853.5" x2="51.5" y2="856.7" stroke="#444" stroke-width="1"/>
<text x="51.4" y="866.2" font-size="8.6" text-anchor="middle" fill="#111">0</text>
<line x1="73.5" y1="853.5" x2="73.5" y2="856.7" stroke="#444" stroke-width="1"/>
<text x="73.7" y="866.2" font-size="8.6" text-anchor="middle" fill="#111">50</text>
<line x1="96.5" y1="853.5" x2="96.5" y2="856.7" stroke="#444" stroke-width="1"/>
<text x="96" y="866.2" font-size="8.6" text-anchor="middle" fill="#111">100</text>
<line x1="118.5" y1="853.5" x2="118.5" y2="856.7" stroke="#444" stroke-width="1"/>
<text x="118.3" y="866.2" font-size="8.6" text-anchor="middle" fill="#111">150</text>
<line x1="140.5" y1="853.5" x2="140.5" y2="856.7" stroke="#444" stroke-width="1"/>
<text x="140.6" y="866.2" font-size="8.6" text-anchor="middle" fill="#111">200</text>
<line x1="44.1" y1="849.5" x2="47.5" y2="849.5" stroke="#444" stroke-width="1"/>
<text transform="translate(38.95,849.4) rotate(-90)" font-size="8.6" text-anchor="middle" fill="#111">0e+00</text>
<line x1="44.1" y1="830.5" x2="47.5" y2="830.5" stroke="#444" stroke-width="1"/>
<line x1="44.1" y1="810.5" x2="47.5" y2="810.5" stroke="#444" stroke-width="1"/>
<text transform="translate(38.95,810.7) rotate(-90)" font-size="8.6" text-anchor="middle" fill="#111">4e+04</text>
<line x1="44.1" y1="791.5" x2="47.5" y2="791.5" stroke="#444" stroke-width="1"/>
<line x1="44.1" y1="772.5" x2="47.5" y2="772.5" stroke="#444" stroke-width="1"/>
<text transform="translate(38.95,772) rotate(-90)" font-size="8.6" text-anchor="middle" fill="#111">8e+04</text>
<line x1="44.1" y1="752.5" x2="47.5" y2="752.5" stroke="#444" stroke-width="1"/>
<line x1="198.4" y1="849.5" x2="305.2" y2="849.5" stroke="#1a1a1a" stroke-width="1"/>
<polygon fill="#000" points="217.98,849.4 217.98,849.4 218.34,849.16 218.82,848.75 219.3,848.1 219.9,847.13 220.62,845.35 221.22,842.6 222.06,838.06 222.66,833.2 224.46,833.2 225.3,838.06 226.5,842.6 227.82,845.35 229.26,847.13 232.14,848.1 236.1,848.75 242.1,849.16 245.1,849.4 245.1,849.4"/>
<rect x="194.5" y="748.5" width="115" height="105" fill="none" stroke="#444" stroke-width="1"/>
<text x="252" y="746.9" font-size="10.1" text-anchor="middle" fill="#111">D2A2</text>
<text x="259.2" y="762.5" font-size="8.75" fill="#111">min = 15</text>
<text x="259.2" y="772.78" font-size="8.75" fill="#111">max = 192</text>
<text x="259.2" y="783.06" font-size="8.75" fill="#111">p15 = 0</text>
<text x="259.2" y="793.34" font-size="8.75" fill="#111">p30 = 0.002</text>
<text x="259.2" y="803.62" font-size="8.75" fill="#111">p50 = 0.695</text>
<line x1="198.5" y1="853.5" x2="198.5" y2="856.7" stroke="#444" stroke-width="1"/>
<text x="198.4" y="866.2" font-size="8.6" text-anchor="middle" fill="#111">0</text>
<line x1="226.5" y1="853.5" x2="226.5" y2="856.7" stroke="#444" stroke-width="1"/>
<text x="226" y="866.2" font-size="8.6" text-anchor="middle" fill="#111">50</text>
<line x1="253.5" y1="853.5" x2="253.5" y2="856.7" stroke="#444" stroke-width="1"/>
<text x="253.6" y="866.2" font-size="8.6" text-anchor="middle" fill="#111">100</text>
<line x1="281.5" y1="853.5" x2="281.5" y2="856.7" stroke="#444" stroke-width="1"/>
<text x="281.2" y="866.2" font-size="8.6" text-anchor="middle" fill="#111">150</text>
<line x1="191.1" y1="849.5" x2="194.5" y2="849.5" stroke="#444" stroke-width="1"/>
<text transform="translate(186.2,849.4) rotate(-90)" font-size="8.6" text-anchor="middle" fill="#111">0e+00</text>
<line x1="191.1" y1="830.5" x2="194.5" y2="830.5" stroke="#444" stroke-width="1"/>
<line x1="191.1" y1="810.5" x2="194.5" y2="810.5" stroke="#444" stroke-width="1"/>
<text transform="translate(186.2,810.7) rotate(-90)" font-size="8.6" text-anchor="middle" fill="#111">4e+04</text>
<line x1="191.1" y1="791.5" x2="194.5" y2="791.5" stroke="#444" stroke-width="1"/>
<line x1="191.1" y1="772.5" x2="194.5" y2="772.5" stroke="#444" stroke-width="1"/>
<text transform="translate(186.2,772) rotate(-90)" font-size="8.6" text-anchor="middle" fill="#111">8e+04</text>
<line x1="191.1" y1="752.5" x2="194.5" y2="752.5" stroke="#444" stroke-width="1"/>
<line x1="344.8" y1="849.5" x2="452.4" y2="849.5" stroke="#1a1a1a" stroke-width="1"/>
<polygon fill="#000" points="363.32,849.4 363.32,849.4 363.62,849.11 364.02,848.63 364.42,847.86 364.91,846.71 365.51,844.6 366.01,841.34 366.71,835.96 367.2,830.2 368.7,830.2 369.39,835.96 370.39,841.34 371.48,844.6 372.68,846.71 375.07,847.86 378.35,848.63 383.33,849.11 385.82,849.4 385.82,849.4"/>
<rect x="341.5" y="748.5" width="115" height="105" fill="none" stroke="#444" stroke-width="1"/>
<text x="399.05" y="746.9" font-size="10.1" text-anchor="middle" fill="#111">D3A1</text>
<text x="406.1" y="762.5" font-size="8.75" fill="#111">min = 23</text>
<text x="406.1" y="772.78" font-size="8.75" fill="#111">max = 234</text>
<text x="406.1" y="783.06" font-size="8.75" fill="#111">p15 = 0</text>
<text x="406.1" y="793.34" font-size="8.75" fill="#111">p30 = 0.001</text>
<text x="406.1" y="803.62" font-size="8.75" fill="#111">p50 = 0.341</text>
<line x1="344.5" y1="853.5" x2="344.5" y2="856.7" stroke="#444" stroke-width="1"/>
<text x="344.8" y="866.2" font-size="8.6" text-anchor="middle" fill="#111">0</text>
<line x1="367.5" y1="853.5" x2="367.5" y2="856.7" stroke="#444" stroke-width="1"/>
<text x="367.7" y="866.2" font-size="8.6" text-anchor="middle" fill="#111">50</text>
<line x1="390.5" y1="853.5" x2="390.5" y2="856.7" stroke="#444" stroke-width="1"/>
<text x="390.6" y="866.2" font-size="8.6" text-anchor="middle" fill="#111">100</text>
<line x1="413.5" y1="853.5" x2="413.5" y2="856.7" stroke="#444" stroke-width="1"/>
<text x="413.5" y="866.2" font-size="8.6" text-anchor="middle" fill="#111">150</text>
<line x1="436.5" y1="853.5" x2="436.5" y2="856.7" stroke="#444" stroke-width="1"/>
<text x="436.4" y="866.2" font-size="8.6" text-anchor="middle" fill="#111">200</text>
<line x1="338.1" y1="849.5" x2="341.5" y2="849.5" stroke="#444" stroke-width="1"/>
<text transform="translate(333.1,849.4) rotate(-90)" font-size="8.6" text-anchor="middle" fill="#111">0e+00</text>
<line x1="338.1" y1="830.5" x2="341.5" y2="830.5" stroke="#444" stroke-width="1"/>
<line x1="338.1" y1="810.5" x2="341.5" y2="810.5" stroke="#444" stroke-width="1"/>
<text transform="translate(333.1,810.7) rotate(-90)" font-size="8.6" text-anchor="middle" fill="#111">4e+04</text>
<line x1="338.1" y1="791.5" x2="341.5" y2="791.5" stroke="#444" stroke-width="1"/>
<line x1="338.1" y1="772.5" x2="341.5" y2="772.5" stroke="#444" stroke-width="1"/>
<text transform="translate(333.1,772) rotate(-90)" font-size="8.6" text-anchor="middle" fill="#111">8e+04</text>
<line x1="338.1" y1="752.5" x2="341.5" y2="752.5" stroke="#444" stroke-width="1"/>
<line x1="491.8" y1="849.5" x2="599" y2="849.5" stroke="#1a1a1a" stroke-width="1"/>
<polygon fill="#000" points="508.98,849.4 508.98,849.4 509.27,849.18 509.65,848.82 510.04,848.25 510.52,847.38 511.09,845.8 511.57,843.35 512.25,839.32 512.73,835 514.17,835 514.84,839.32 515.8,843.35 516.86,845.8 518.01,847.38 520.32,848.25 523.49,848.82 528.29,849.18 530.7,849.4 530.7,849.4"/>
<rect x="488.5" y="748.5" width="115" height="105" fill="none" stroke="#444" stroke-width="1"/>
<text x="545.7" y="746.9" font-size="10.1" text-anchor="middle" fill="#111">D3A2</text>
<text x="552.8" y="762.5" font-size="8.75" fill="#111">min = 24</text>
<text x="552.8" y="772.78" font-size="8.75" fill="#111">max = 242</text>
<text x="552.8" y="783.06" font-size="8.75" fill="#111">p15 = 0</text>
<text x="552.8" y="793.34" font-size="8.75" fill="#111">p30 = 0.001</text>
<text x="552.8" y="803.62" font-size="8.75" fill="#111">p50 = 0.499</text>
<line x1="491.5" y1="853.5" x2="491.5" y2="856.7" stroke="#444" stroke-width="1"/>
<text x="491.8" y="866.2" font-size="8.6" text-anchor="middle" fill="#111">0</text>
<line x1="513.5" y1="853.5" x2="513.5" y2="856.7" stroke="#444" stroke-width="1"/>
<text x="513.9" y="866.2" font-size="8.6" text-anchor="middle" fill="#111">50</text>
<line x1="536.5" y1="853.5" x2="536.5" y2="856.7" stroke="#444" stroke-width="1"/>
<text x="536" y="866.2" font-size="8.6" text-anchor="middle" fill="#111">100</text>
<line x1="558.5" y1="853.5" x2="558.5" y2="856.7" stroke="#444" stroke-width="1"/>
<text x="558.1" y="866.2" font-size="8.6" text-anchor="middle" fill="#111">150</text>
<line x1="580.5" y1="853.5" x2="580.5" y2="856.7" stroke="#444" stroke-width="1"/>
<text x="580.2" y="866.2" font-size="8.6" text-anchor="middle" fill="#111">200</text>
<line x1="602.5" y1="853.5" x2="602.5" y2="856.7" stroke="#444" stroke-width="1"/>
<text x="602.3" y="866.2" font-size="8.6" text-anchor="middle" fill="#111">250</text>
<line x1="485.1" y1="849.5" x2="488.5" y2="849.5" stroke="#444" stroke-width="1"/>
<text transform="translate(479.8,849.4) rotate(-90)" font-size="8.6" text-anchor="middle" fill="#111">0e+00</text>
<line x1="485.1" y1="830.5" x2="488.5" y2="830.5" stroke="#444" stroke-width="1"/>
<line x1="485.1" y1="810.5" x2="488.5" y2="810.5" stroke="#444" stroke-width="1"/>
<text transform="translate(479.8,810.7) rotate(-90)" font-size="8.6" text-anchor="middle" fill="#111">4e+04</text>
<line x1="485.1" y1="791.5" x2="488.5" y2="791.5" stroke="#444" stroke-width="1"/>
<line x1="485.1" y1="772.5" x2="488.5" y2="772.5" stroke="#444" stroke-width="1"/>
<text transform="translate(479.8,772) rotate(-90)" font-size="8.6" text-anchor="middle" fill="#111">8e+04</text>
<line x1="485.1" y1="752.5" x2="488.5" y2="752.5" stroke="#444" stroke-width="1"/>
</g>
</svg>
</body></html>
